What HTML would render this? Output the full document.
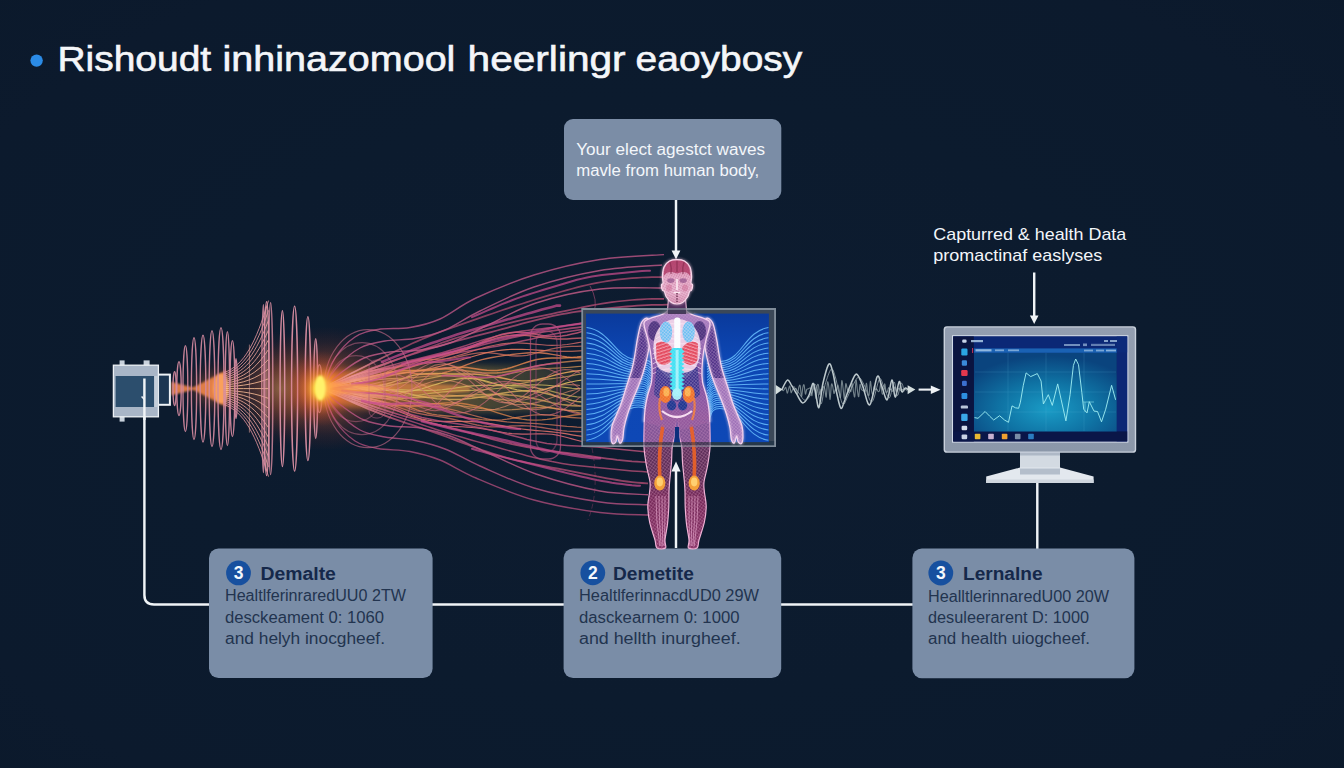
<!DOCTYPE html>
<html><head><meta charset="utf-8"><title>diagram</title>
<style>
html,body{margin:0;padding:0;background:#0c1a2d;}
body{width:1344px;height:768px;overflow:hidden;position:relative;font-family:"Liberation Sans",sans-serif;}
#bg{position:absolute;left:0;top:0;width:1344px;height:768px;
background:radial-gradient(ellipse 980px 600px at 660px 400px,#0d1c30 0%,#0c1b2e 50%,#0c1a2d 80%,#0b192b 100%);}
svg{position:absolute;left:0;top:0;}
text{font-family:"Liberation Sans",sans-serif;}
</style></head><body><div id="bg"></div>
<svg width="1344" height="768" viewBox="0 0 1344 768">
<!-- p_defs -->
<defs>
<radialGradient id="glowY" cx="50%" cy="50%" r="50%">
<stop offset="0" stop-color="#fff27a" stop-opacity="1"/>
<stop offset="0.18" stop-color="#ffd23a" stop-opacity="0.95"/>
<stop offset="0.4" stop-color="#ff8a2a" stop-opacity="0.6"/>
<stop offset="0.7" stop-color="#e0502a" stop-opacity="0.22"/>
<stop offset="1" stop-color="#c03020" stop-opacity="0"/>
</radialGradient>
<radialGradient id="glowO" cx="50%" cy="50%" r="50%">
<stop offset="0" stop-color="#ffb060" stop-opacity="0.95"/>
<stop offset="0.35" stop-color="#ff7a38" stop-opacity="0.6"/>
<stop offset="0.75" stop-color="#d04828" stop-opacity="0.18"/>
<stop offset="1" stop-color="#c03020" stop-opacity="0"/>
</radialGradient>
<linearGradient id="coreG" x1="0" y1="0" x2="1" y2="0">
<stop offset="0" stop-color="#ff8a3a" stop-opacity="0.9"/>
<stop offset="0.3" stop-color="#f88c3c" stop-opacity="0.6"/>
<stop offset="0.6" stop-color="#c8a040" stop-opacity="0.42"/>
<stop offset="0.85" stop-color="#a89040" stop-opacity="0.3"/>
<stop offset="1" stop-color="#a08838" stop-opacity="0.12"/>
</linearGradient>
<linearGradient id="panelG" x1="0" y1="0" x2="0" y2="1">
<stop offset="0" stop-color="#0a3a9c"/>
<stop offset="0.35" stop-color="#0d47b4"/>
<stop offset="1" stop-color="#0e48b6"/>
</linearGradient>
<radialGradient id="scrG" cx="52%" cy="72%" r="68%">
<stop offset="0" stop-color="#1a9cc6"/>
<stop offset="0.5" stop-color="#0f73a4"/>
<stop offset="1" stop-color="#0a447e"/>
</radialGradient>
<linearGradient id="bezelG" x1="0" y1="0" x2="0" y2="1">
<stop offset="0" stop-color="#939eb0"/>
<stop offset="1" stop-color="#8b97a9"/>
</linearGradient>
<linearGradient id="bodyG" x1="0" y1="0" x2="0" y2="1">
<stop offset="0" stop-color="#d890b0"/>
<stop offset="0.25" stop-color="#b070a8"/>
<stop offset="0.6" stop-color="#9a5aa0"/>
<stop offset="1" stop-color="#c86a9a"/>
</linearGradient>
<pattern id="mesh" width="2.6" height="2.6" patternUnits="userSpaceOnUse" patternTransform="rotate(35)">
<path d="M0 0 H2.6 M0 0 V2.6" stroke="#f2b4d8" stroke-width="0.55" fill="none"/>
</pattern>
<pattern id="meshW" width="2.4" height="2.4" patternUnits="userSpaceOnUse" patternTransform="rotate(40)">
<path d="M0 0 H2.4 M0 0 V2.4" stroke="#ffe6f6" stroke-width="0.55" fill="none"/>
</pattern>
<pattern id="dotsP" width="2.2" height="2.2" patternUnits="userSpaceOnUse" patternTransform="rotate(28)">
<circle cx="0.8" cy="0.8" r="0.55" fill="#a03868"/>
</pattern>
<pattern id="dotsD" width="3" height="3" patternUnits="userSpaceOnUse" patternTransform="rotate(20)">
<circle cx="1" cy="1" r="0.9" fill="#2a1a66"/>
</pattern>
<pattern id="ribs" width="4" height="3.2" patternUnits="userSpaceOnUse" patternTransform="rotate(-18)">
<path d="M0 1 H4" stroke="#ffd8e4" stroke-width="0.9"/>
</pattern>
<pattern id="ribs2" width="4" height="3.2" patternUnits="userSpaceOnUse" patternTransform="rotate(18)">
<path d="M0 1 H4" stroke="#ffd8e4" stroke-width="0.9"/>
</pattern>
<linearGradient id="torsoG" gradientUnits="userSpaceOnUse" x1="0" y1="299" x2="0" y2="432">
<stop offset="0" stop-color="#b78cc6"/><stop offset="0.2" stop-color="#a478bc"/><stop offset="0.55" stop-color="#7e4ea0"/><stop offset="0.75" stop-color="#8a56a2"/><stop offset="0.9" stop-color="#94589c"/><stop offset="1" stop-color="#94589c" stop-opacity="0.6"/>
</linearGradient>
<linearGradient id="legG" gradientUnits="userSpaceOnUse" x1="0" y1="420" x2="0" y2="548">
<stop offset="0" stop-color="#6d3468"/><stop offset="0.45" stop-color="#70305e"/><stop offset="0.6" stop-color="#8c2c62"/><stop offset="1" stop-color="#a03670"/>
</linearGradient>
<linearGradient id="headG" gradientUnits="userSpaceOnUse" x1="0" y1="260" x2="0" y2="304">
<stop offset="0" stop-color="#d47a9e"/><stop offset="0.4" stop-color="#e8b0cc"/><stop offset="0.75" stop-color="#eab8d2"/><stop offset="1" stop-color="#d898b8"/>
</linearGradient>
<linearGradient id="nearG" gradientUnits="userSpaceOnUse" x1="322" y1="0" x2="402" y2="0">
<stop offset="0" stop-color="#ffc8a0" stop-opacity="0.95"/><stop offset="0.5" stop-color="#f4a494" stop-opacity="0.6"/><stop offset="1" stop-color="#e88a90" stop-opacity="0"/>
</linearGradient>
<clipPath id="upArm"><rect x="600" y="315" width="160" height="63"/></clipPath>
<clipPath id="foreL"><rect x="600" y="378" width="45" height="70"/></clipPath>
<clipPath id="foreR"><rect x="709" y="378" width="45" height="70"/></clipPath>
<clipPath id="inPanel"><rect x="586" y="313.6" width="182.9" height="128.5"/></clipPath>
<clipPath id="inFrame"><rect x="581.3" y="308" width="194.7" height="139"/></clipPath>
<filter id="blur1" x="-20%" y="-20%" width="140%" height="140%"><feGaussianBlur stdDeviation="1.2"/></filter>
<filter id="blur3" x="-30%" y="-30%" width="160%" height="160%"><feGaussianBlur stdDeviation="3"/></filter>
<filter id="blur05" x="-10%" y="-10%" width="120%" height="120%"><feGaussianBlur stdDeviation="0.5"/></filter>
</defs>
<!-- p_waves -->
<ellipse cx="326" cy="388.6" rx="78" ry="62" fill="url(#glowO)" opacity="0.62"/><ellipse cx="218" cy="388.6" rx="40" ry="30" fill="url(#glowO)" opacity="0.5"/><path d="M322 374 Q420 360 585 368 L585 410 Q420 418 322 403 Z" fill="url(#coreG)" filter="url(#blur3)" opacity="0.8"/><path d="M322 383 Q400 381 470 386 L470 392 Q400 397 322 395 Z" fill="#ff9a48" filter="url(#blur1)" opacity="0.5"/><path d="M322 388.6 L327 386 L332 383.4 L337 380.8 L342 378.2 L347 375.6 L352 373.1 L357 370.6 L362 368 L367 365.5 L372 363 L377 360.5 L382 358 L387 355.5 L392 353.1 L397 350.6 L402 348.3 L407 345.9 L412 343.6 L417 341.4 L422 339.2 L427 337.1 L432 335.2 L437 333.2 L442 331.3 L447 329.5 L452 327.7 L457 325.9 L462 324.1 L467 322.4 L472 320.6 L477 318.9 L482 317.1 L487 315.4 L492 313.7 L497 312 L502 310.3 L507 308.6 L512 306.9 L517 305.3 L522 303.7 L527 302.1 L532 300.5 L537 298.9 L542 297.4 L547 295.9 L552 294.4 L557 293 L562 291.5 L567 290.1 L572 288.8 L577 287.4 L582 286.2 L587 285 L592 283.9 L597 282.9 L602 282 L607 281.1 L612 280.4 L617 279.7 L622 279.1 L627 278.6 L632 278.2 L637 277.8 L642 277.5 L647 277.3 L652 277.1 L657 277.1 L662 277.2 L664 277.2" fill="none" stroke="#a7486c" stroke-width="1.7" opacity="0.8" stroke-linejoin="round"/><path d="M322 388.6 L327 386 L332 383.4 L337 380.8 L342 378.2 L347 375.6 L352 373.1 L357 370.6 L362 368 L367 365.5 L372 363 L377 360.5 L382 358 L387 355.5 L392 353.1 L397 350.6 L402 348.3" fill="none" stroke="url(#nearG)" stroke-width="1.7" stroke-linejoin="round"/><path d="M322 388.6 L327 386.5 L332 384.4 L337 382.3 L342 380.2 L347 378.2 L352 376.2 L357 374.2 L362 372.2 L367 370.3 L372 368.4 L377 366.5 L382 364.7 L387 362.9 L392 361.1 L397 359.4 L402 357.6 L407 355.8 L412 354 L417 352.1 L422 350.3 L427 348.4 L432 346.5 L437 344.7 L442 342.8 L447 341.1 L452 339.4 L457 337.8 L462 336.2 L467 334.7 L472 333.2 L477 331.8 L482 330.4 L487 329 L492 327.6 L497 326.3 L502 324.9 L507 323.6 L512 322.4 L517 321.2 L522 320 L527 318.9 L532 317.8 L537 316.8 L542 315.8 L547 314.8 L552 313.8 L557 312.7 L562 311.7 L567 310.6 L572 309.5 L577 308.5 L582 307.4 L587 306.4 L592 305.4 L597 304.5 L602 303.6 L607 302.9 L612 302.2 L617 301.5 L622 301 L627 300.5 L632 300 L637 299.6 L642 299.3 L647 299 L652 298.8 L657 298.8 L662 298.8 L664 298.8" fill="none" stroke="#b14c72" stroke-width="1.7" opacity="0.8" stroke-linejoin="round"/><path d="M322 388.6 L327 386.5 L332 384.4 L337 382.3 L342 380.2 L347 378.2 L352 376.2 L357 374.2 L362 372.2 L367 370.3 L372 368.4 L377 366.5 L382 364.7 L387 362.9 L392 361.1 L397 359.4 L402 357.6" fill="none" stroke="url(#nearG)" stroke-width="1.7" stroke-linejoin="round"/><path d="M322 388.6 L327 386.6 L332 384.6 L337 382.6 L342 380.6 L347 378.6 L352 376.7 L357 374.7 L362 372.8 L367 370.8 L372 368.9 L377 367 L382 365.2 L387 363.3 L392 361.5 L397 359.7 L402 358 L407 356.2 L412 354.5 L417 352.9 L422 351.2 L427 349.6 L432 348.1 L437 346.6 L442 345.2 L447 343.7 L452 342.3 L457 341 L462 339.6 L467 338.3 L472 337 L477 335.7 L482 334.4 L487 333.1 L492 331.8 L497 330.5 L502 329.1 L507 327.8 L512 326.4 L517 325.1 L522 323.7 L527 322.4 L532 321.1 L537 319.8 L542 318.6 L547 317.4 L552 316.2 L557 315.2 L562 314.2 L567 313.3 L572 312.4 L577 311.7 L582 311 L587 310.4 L592 309.8 L597 309.3 L602 308.8 L607 308.3 L612 307.8 L617 307.4 L622 306.9 L627 306.5 L632 306.1 L637 305.7 L642 305.4 L647 305.1 L652 304.9 L657 304.8 L662 304.8 L667 304.7 L668 304.7" fill="none" stroke="#b44e74" stroke-width="1.8" opacity="0.8" stroke-linejoin="round"/><path d="M322 388.6 L327 386.6 L332 384.6 L337 382.6 L342 380.6 L347 378.6 L352 376.7 L357 374.7 L362 372.8 L367 370.8 L372 368.9 L377 367 L382 365.2 L387 363.3 L392 361.5 L397 359.7 L402 358" fill="none" stroke="url(#nearG)" stroke-width="1.8" stroke-linejoin="round"/><path d="M322 388.6 L327 386.8 L332 385 L337 383.3 L342 381.5 L347 379.8 L352 378.1 L357 376.4 L362 374.7 L367 373 L372 371.4 L377 369.8 L382 368.3 L387 366.7 L392 365.3 L397 363.9 L402 362.6 L407 361.3 L412 360 L417 358.9 L422 357.7 L427 356.5 L432 355.3 L437 354 L442 352.7 L447 351.3 L452 349.8 L457 348.3 L462 346.7 L467 345.1 L472 343.5 L477 341.9 L482 340.3 L487 338.8 L492 337.4 L497 336 L502 334.8 L507 333.7 L512 332.8 L517 331.9 L522 331.1 L527 330.5 L532 329.8 L537 329.2 L542 328.7 L547 328.1 L552 327.5 L557 326.8 L562 326.2 L567 325.5 L572 324.7 L577 323.9 L582 323.1" fill="none" stroke="#b95077" stroke-width="1.5" opacity="0.8" stroke-linejoin="round"/><path d="M322 388.6 L327 386.8 L332 385 L337 383.3 L342 381.5 L347 379.8 L352 378.1 L357 376.4 L362 374.7 L367 373 L372 371.4 L377 369.8 L382 368.3 L387 366.7 L392 365.3 L397 363.9 L402 362.6" fill="none" stroke="url(#nearG)" stroke-width="1.5" stroke-linejoin="round"/><path d="M322 388.6 L327 387 L332 385.3 L337 383.8 L342 382.2 L347 380.6 L352 379.1 L357 377.6 L362 376.1 L367 374.6 L372 373.1 L377 371.6 L382 370.1 L387 368.6 L392 367.2 L397 365.7 L402 364.3 L407 362.9 L412 361.6 L417 360.3 L422 359.1 L427 357.9 L432 356.8 L437 355.7 L442 354.6 L447 353.4 L452 352.3 L457 351.1 L462 350 L467 348.8 L472 347.5 L477 346.3 L482 345 L487 343.7 L492 342.5 L497 341.2 L502 340 L507 338.8 L512 337.7 L517 336.6 L522 335.6 L527 334.6 L532 333.8 L537 332.9 L542 332.2 L547 331.5 L552 330.8 L557 330.1 L562 329.5 L567 328.8 L572 328.2 L577 327.6 L582 326.9" fill="none" stroke="#bb5178" stroke-width="1.7" opacity="0.8" stroke-linejoin="round"/><path d="M322 388.6 L327 387 L332 385.3 L337 383.8 L342 382.2 L347 380.6 L352 379.1 L357 377.6 L362 376.1 L367 374.6 L372 373.1 L377 371.6 L382 370.1 L387 368.6 L392 367.2 L397 365.7 L402 364.3" fill="none" stroke="url(#nearG)" stroke-width="1.7" stroke-linejoin="round"/><path d="M322 388.6 L327 387.2 L332 385.8 L337 384.3 L342 382.9 L347 381.5 L352 380.1 L357 378.6 L362 377.2 L367 375.7 L372 374.2 L377 372.7 L382 371.2 L387 369.7 L392 368.2 L397 366.7 L402 365.3 L407 363.9 L412 362.6 L417 361.3 L422 360 L427 358.8 L432 357.7 L437 356.7 L442 355.7 L447 354.7 L452 353.8 L457 352.9 L462 352.1 L467 351.2 L472 350.4 L477 349.6 L482 348.8 L487 347.9 L492 347.1 L497 346.2 L502 345.2 L507 344.2 L512 343.2 L517 342.2 L522 341.1 L527 340 L532 338.9 L537 337.7 L542 336.6 L547 335.6 L552 334.5 L557 333.5 L562 332.6 L567 331.7 L572 331 L577 330.3 L582 329.6" fill="none" stroke="#bd527a" stroke-width="1.5" opacity="0.8" stroke-linejoin="round"/><path d="M322 388.6 L327 387.2 L332 385.8 L337 384.3 L342 382.9 L347 381.5 L352 380.1 L357 378.6 L362 377.2 L367 375.7 L372 374.2 L377 372.7 L382 371.2 L387 369.7 L392 368.2 L397 366.7 L402 365.3" fill="none" stroke="url(#nearG)" stroke-width="1.5" stroke-linejoin="round"/><path d="M322 388.6 L327 386.8 L332 384.8 L337 382.7 L342 380.5 L347 378.4 L352 376.4 L357 374.6 L362 373 L367 371.7 L372 370.7 L377 369.8 L382 369.2 L387 368.6 L392 368 L397 367.2 L402 366.3 L407 365.2 L412 364 L417 362.4 L422 360.7 L427 359.1 L432 357.5 L437 356.1 L442 354.7 L447 353.4 L452 352.1 L457 350.8 L462 349.3 L467 347.7 L472 345.9 L477 343.9 L482 341.9 L487 339.8 L492 337.7 L497 335.9 L502 334.3 L507 333.2 L512 332.4 L517 332.1 L522 332.3 L527 332.8 L532 333.6 L537 334.5 L542 335.4 L547 336.2 L552 336.6 L557 336.6 L562 336.1 L567 335.2 L572 334.1 L577 332.9 L582 331.6" fill="none" stroke="#d25b7a" stroke-width="1.5" opacity="0.8" stroke-linejoin="round"/><path d="M322 388.6 L327 386.8 L332 384.8 L337 382.7 L342 380.5 L347 378.4 L352 376.4 L357 374.6 L362 373 L367 371.7 L372 370.7 L377 369.8 L382 369.2 L387 368.6 L392 368 L397 367.2 L402 366.3" fill="none" stroke="url(#nearG)" stroke-width="1.5" stroke-linejoin="round"/><path d="M322 388.6 L327 386.7 L332 385 L337 383.4 L342 382 L347 380.7 L352 379.7 L357 378.8 L362 378.1 L367 377.4 L372 376.7 L377 375.9 L382 375 L387 373.9 L392 372.7 L397 371.3 L402 369.8 L407 368.2 L412 366.6 L417 364.8 L422 363.1 L427 361.5 L432 360 L437 358.6 L442 357.2 L447 355.8 L452 354.3 L457 352.7 L462 350.9 L467 349.1 L472 347.1 L477 345.1 L482 343.1 L487 341.2 L492 339.5 L497 337.9 L502 336.7 L507 335.8 L512 335.3 L517 335.1 L522 335.2 L527 335.6 L532 336.1 L537 336.8 L542 337.5 L547 338.1 L552 338.6 L557 338.9 L562 339 L567 338.9 L572 338.6 L577 338.3 L582 337.9" fill="none" stroke="#d76471" stroke-width="1.5" opacity="0.8" stroke-linejoin="round"/><path d="M322 388.6 L327 386.7 L332 385 L337 383.4 L342 382 L347 380.7 L352 379.7 L357 378.8 L362 378.1 L367 377.4 L372 376.7 L377 375.9 L382 375 L387 373.9 L392 372.7 L397 371.3 L402 369.8" fill="none" stroke="url(#nearG)" stroke-width="1.5" stroke-linejoin="round"/><path d="M322 388.6 L327 386.9 L332 385.3 L337 383.8 L342 382.4 L347 381.2 L352 380.1 L357 379 L362 378.1 L367 377.1 L372 376.1 L377 375.1 L382 374.1 L387 373 L392 371.8 L397 370.6 L402 369.3 L407 368.1 L412 366.8 L417 365.5 L422 364.3 L427 363.1 L432 362 L437 360.8 L442 359.7 L447 358.5 L452 357.2 L457 355.8 L462 354.4 L467 352.9 L472 351.3 L477 349.8 L482 348.3 L487 346.9 L492 345.7 L497 344.7 L502 343.9 L507 343.3 L512 343 L517 343 L522 343.1 L527 343.4 L532 343.9 L537 344.4 L542 344.8 L547 345.2 L552 345.4 L557 345.3 L562 345 L567 344.5 L572 343.7 L577 342.9 L582 342" fill="none" stroke="#da6b6a" stroke-width="1.1" opacity="0.8" stroke-linejoin="round"/><path d="M322 388.6 L327 386.9 L332 385.3 L337 383.8 L342 382.4 L347 381.2 L352 380.1 L357 379 L362 378.1 L367 377.1 L372 376.1 L377 375.1 L382 374.1 L387 373 L392 371.8 L397 370.6 L402 369.3" fill="none" stroke="url(#nearG)" stroke-width="1.1" stroke-linejoin="round"/><path d="M322 388.6 L327 387.4 L332 386.2 L337 385 L342 383.8 L347 382.7 L352 381.7 L357 380.7 L362 379.8 L367 378.7 L372 377.5 L377 376 L382 374.2 L387 372.1 L392 369.8 L397 367.4 L402 365.1 L407 363 L412 361.2 L417 360.3 L422 359.8 L427 359.5 L432 359.5 L437 359.4 L442 359.2 L447 358.8 L452 358.1 L457 357.1 L462 356 L467 354.9 L472 353.9 L477 353.1 L482 352.7 L487 352.7 L492 353.1 L497 353.7 L502 354.5 L507 355.2 L512 355.8 L517 356 L522 355.9 L527 355.3 L532 354.2 L537 352.9 L542 351.5 L547 350.1 L552 348.8 L557 347.8 L562 347.1 L567 346.6 L572 346.4 L577 346.3 L582 346.1" fill="none" stroke="#df7363" stroke-width="1.3" opacity="0.7" stroke-linejoin="round"/><path d="M322 388.6 L327 387.4 L332 386.2 L337 385 L342 383.8 L347 382.7 L352 381.7 L357 380.7 L362 379.8 L367 378.7 L372 377.5 L377 376 L382 374.2 L387 372.1 L392 369.8 L397 367.4 L402 365.1" fill="none" stroke="url(#nearG)" stroke-width="1.3" stroke-linejoin="round"/><path d="M322 388.6 L327 387.1 L332 385.6 L337 384.2 L342 382.8 L347 381.6 L352 380.5 L357 379.4 L362 378.5 L367 377.7 L372 376.9 L377 376.2 L382 375.6 L387 375 L392 374.5 L397 373.9 L402 373.4 L407 372.8 L412 372.2 L417 371.3 L422 370.4 L427 369.4 L432 368.3 L437 367.1 L442 365.8 L447 364.4 L452 362.9 L457 361.4 L462 359.8 L467 358.2 L472 356.7 L477 355.2 L482 353.9 L487 352.6 L492 351.6 L497 350.7 L502 350.1 L507 349.6 L512 349.4 L517 349.3 L522 349.4 L527 349.5 L532 349.8 L537 350.1 L542 350.4 L547 350.7 L552 351 L557 351.2 L562 351.2 L567 351.2 L572 351.2 L577 351 L582 350.8" fill="none" stroke="#e2795e" stroke-width="1.1" opacity="0.9" stroke-linejoin="round"/><path d="M322 388.6 L327 387.1 L332 385.6 L337 384.2 L342 382.8 L347 381.6 L352 380.5 L357 379.4 L362 378.5 L367 377.7 L372 376.9 L377 376.2 L382 375.6 L387 375 L392 374.5 L397 373.9 L402 373.4" fill="none" stroke="url(#nearG)" stroke-width="1.1" stroke-linejoin="round"/><path d="M322 388.6 L327 387.5 L332 386.3 L337 385.1 L342 383.9 L347 382.6 L352 381.3 L357 380.1 L362 378.9 L367 377.6 L372 376.4 L377 375.2 L382 374.2 L387 373.3 L392 372.6 L397 372.2 L402 372.1 L407 372.4 L412 373 L417 373.6 L422 374.1 L427 374.4 L432 374.4 L437 374 L442 373.2 L447 372 L452 370.4 L457 368.6 L462 366.7 L467 364.7 L472 362.9 L477 361.2 L482 359.7 L487 358.5 L492 357.5 L497 356.6 L502 355.9 L507 355.2 L512 354.5 L517 353.9 L522 353.4 L527 353 L532 352.7 L537 352.7 L542 353 L547 353.5 L552 354.3 L557 355.2 L562 356.2 L567 357 L572 357.6 L577 357.9 L582 357.8" fill="none" stroke="#e68157" stroke-width="1.3" opacity="0.8" stroke-linejoin="round"/><path d="M322 388.6 L327 387.5 L332 386.3 L337 385.1 L342 383.9 L347 382.6 L352 381.3 L357 380.1 L362 378.9 L367 377.6 L372 376.4 L377 375.2 L382 374.2 L387 373.3 L392 372.6 L397 372.2 L402 372.1" fill="none" stroke="url(#nearG)" stroke-width="1.3" stroke-linejoin="round"/><path d="M322 388.6 L327 387.8 L332 387.2 L337 386.5 L342 385.8 L347 385.1 L352 384.2 L357 383.1 L362 381.7 L367 380.1 L372 378.4 L377 376.6 L382 374.9 L387 373.3 L392 372.1 L397 371.2 L402 370.7 L407 370.5 L412 370.5 L417 370.6 L422 370.7 L427 370.5 L432 370 L437 369.4 L442 368.7 L447 368 L452 367.5 L457 367.2 L462 367.2 L467 367.6 L472 368.2 L477 369 L482 369.7 L487 370.3 L492 370.6 L497 370.5 L502 369.8 L507 368.8 L512 367.3 L517 365.6 L522 363.9 L527 362.2 L532 360.7 L537 359.6 L542 358.8 L547 358.3 L552 358 L557 358 L562 358 L567 357.8 L572 357.5 L577 357.1 L582 356.5" fill="none" stroke="#eb894e" stroke-width="1.5" opacity="0.8" stroke-linejoin="round"/><path d="M322 388.6 L327 387.8 L332 387.2 L337 386.5 L342 385.8 L347 385.1 L352 384.2 L357 383.1 L362 381.7 L367 380.1 L372 378.4 L377 376.6 L382 374.9 L387 373.3 L392 372.1 L397 371.2 L402 370.7" fill="none" stroke="url(#nearG)" stroke-width="1.5" stroke-linejoin="round"/><path d="M322 388.6 L327 388.1 L332 387.5 L337 386.8 L342 386 L347 385 L352 384 L357 382.9 L362 381.8 L367 380.6 L372 379.5 L377 378.3 L382 377.3 L387 376.2 L392 375.2 L397 374.2 L402 373.2 L407 372.3 L412 371.3 L417 370.6 L422 370 L427 369.5 L432 369.1 L437 368.9 L442 368.8 L447 368.9 L452 369.3 L457 369.7 L462 370.3 L467 371 L472 371.6 L477 372.2 L482 372.7 L487 373 L492 373 L497 372.9 L502 372.5 L507 371.8 L512 371 L517 370.1 L522 369.1 L527 368 L532 367 L537 366 L542 365 L547 364.2 L552 363.4 L557 362.8 L562 362.2 L567 361.7 L572 361.2 L577 360.8 L582 360.4" fill="none" stroke="#e69255" stroke-width="1.6" opacity="0.7" stroke-linejoin="round"/><path d="M322 388.6 L327 388.1 L332 387.5 L337 386.8 L342 386 L347 385 L352 384 L357 382.9 L362 381.8 L367 380.6 L372 379.5 L377 378.3 L382 377.3 L387 376.2 L392 375.2 L397 374.2 L402 373.2" fill="none" stroke="url(#nearG)" stroke-width="1.6" stroke-linejoin="round"/><path d="M322 388.6 L327 388 L332 387.4 L337 386.6 L342 385.8 L347 384.8 L352 383.8 L357 382.7 L362 381.8 L367 380.9 L372 380.2 L377 379.6 L382 379.2 L387 378.9 L392 378.6 L397 378.4 L402 378.2 L407 377.9 L412 377.6 L417 377.2 L422 376.7 L427 376.3 L432 376 L437 375.8 L442 375.8 L447 375.9 L452 376.3 L457 376.7 L462 377.2 L467 377.7 L472 378.1 L477 378.3 L482 378.3 L487 378 L492 377.4 L497 376.6 L502 375.6 L507 374.5 L512 373.3 L517 372.2 L522 371.2 L527 370.3 L532 369.6 L537 369.1 L542 368.8 L547 368.5 L552 368.3 L557 368.1 L562 367.8 L567 367.5 L572 367.1 L577 366.6 L582 366.2" fill="none" stroke="#e39c57" stroke-width="1.1" opacity="0.7" stroke-linejoin="round"/><path d="M322 388.6 L327 388 L332 387.4 L337 386.6 L342 385.8 L347 384.8 L352 383.8 L357 382.7 L362 381.8 L367 380.9 L372 380.2 L377 379.6 L382 379.2 L387 378.9 L392 378.6 L397 378.4 L402 378.2" fill="none" stroke="url(#nearG)" stroke-width="1.1" stroke-linejoin="round"/><path d="M322 388.6 L327 388.3 L332 388 L337 387.8 L342 387.7 L347 387.6 L352 387.5 L357 387.5 L362 387.3 L367 387.1 L372 386.7 L377 386 L382 385 L387 383.8 L392 382.3 L397 380.7 L402 378.9 L407 377.2 L412 375.7 L417 374.7 L422 374 L427 373.6 L432 373.5 L437 373.5 L442 373.6 L447 373.8 L452 373.9 L457 373.9 L462 374 L467 374 L472 374.1 L477 374.4 L482 374.8 L487 375.3 L492 376.1 L497 377 L502 378 L507 379 L512 379.9 L517 380.5 L522 380.8 L527 380.8 L532 380.4 L537 379.6 L542 378.5 L547 377.3 L552 375.9 L557 374.5 L562 373.3 L567 372.3 L572 371.5 L577 370.9 L582 370.5" fill="none" stroke="#e1a259" stroke-width="1.3" opacity="0.9" stroke-linejoin="round"/><path d="M322 388.6 L327 388.3 L332 388 L337 387.8 L342 387.7 L347 387.6 L352 387.5 L357 387.5 L362 387.3 L367 387.1 L372 386.7 L377 386 L382 385 L387 383.8 L392 382.3 L397 380.7 L402 378.9" fill="none" stroke="url(#nearG)" stroke-width="1.3" stroke-linejoin="round"/><path d="M322 388.6 L327 388.2 L332 388 L337 388.1 L342 388.2 L347 388.5 L352 388.8 L357 389 L362 389 L367 388.8 L372 388.4 L377 387.6 L382 386.8 L387 385.8 L392 384.8 L397 383.8 L402 382.9 L407 382.1 L412 381.2 L417 380.5 L422 379.7 L427 378.8 L432 377.8 L437 376.9 L442 375.9 L447 375.2 L452 374.8 L457 374.8 L462 375.2 L467 376.1 L472 377.4 L477 378.9 L482 380.5 L487 382.1 L492 383.5 L497 384.5 L502 385 L507 385.2 L512 384.8 L517 384.2 L522 383.3 L527 382.4 L532 381.5 L537 380.6 L542 379.9 L547 379.2 L552 378.6 L557 378 L562 377.3 L567 376.5 L572 375.6 L577 374.7 L582 373.9" fill="none" stroke="#ddab5b" stroke-width="1.2" opacity="0.7" stroke-linejoin="round"/><path d="M322 388.6 L327 388.2 L332 388 L337 388.1 L342 388.2 L347 388.5 L352 388.8 L357 389 L362 389 L367 388.8 L372 388.4 L377 387.6 L382 386.8 L387 385.8 L392 384.8 L397 383.8 L402 382.9" fill="none" stroke="url(#nearG)" stroke-width="1.2" stroke-linejoin="round"/><path d="M322 388.6 L327 388.2 L332 387.8 L337 387.4 L342 387.2 L347 387 L352 387 L357 387.1 L362 387.4 L367 387.9 L372 388.4 L377 389.1 L382 389.8 L387 390.4 L392 391 L397 391.4 L402 391.6 L407 391.4 L412 391 L417 389.9 L422 388.7 L427 387.2 L432 385.6 L437 384.1 L442 382.5 L447 381.1 L452 380 L457 379.1 L462 378.6 L467 378.4 L472 378.6 L477 379.2 L482 380.1 L487 381.3 L492 382.8 L497 384.3 L502 385.8 L507 387.3 L512 388.6 L517 389.7 L522 390.5 L527 390.9 L532 390.9 L537 390.5 L542 389.8 L547 388.7 L552 387.4 L557 385.9 L562 384.4 L567 382.9 L572 381.7 L577 380.8 L582 380.1" fill="none" stroke="#d9b75e" stroke-width="1.1" opacity="0.9" stroke-linejoin="round"/><path d="M322 388.6 L327 388.2 L332 387.8 L337 387.4 L342 387.2 L347 387 L352 387 L357 387.1 L362 387.4 L367 387.9 L372 388.4 L377 389.1 L382 389.8 L387 390.4 L392 391 L397 391.4 L402 391.6" fill="none" stroke="url(#nearG)" stroke-width="1.1" stroke-linejoin="round"/><path d="M322 388.6 L327 388.5 L332 388.4 L337 388.3 L342 388.4 L347 388.5 L352 388.7 L357 389 L362 389.3 L367 389.6 L372 389.8 L377 389.9 L382 390 L387 390 L392 390 L397 389.9 L402 389.9 L407 390 L412 390.2 L417 390.3 L422 390.3 L427 390.4 L432 390.3 L437 390.1 L442 389.7 L447 389.1 L452 388.5 L457 387.7 L462 387 L467 386.4 L472 385.9 L477 385.6 L482 385.4 L487 385.4 L492 385.5 L497 385.6 L502 385.7 L507 385.7 L512 385.6 L517 385.5 L522 385.3 L527 385.1 L532 384.9 L537 384.9 L542 385 L547 385.3 L552 385.7 L557 386.3 L562 387 L567 387.6 L572 388.2 L577 388.5 L582 388.8" fill="none" stroke="#d7be60" stroke-width="1.1" opacity="0.8" stroke-linejoin="round"/><path d="M322 388.6 L327 388.5 L332 388.4 L337 388.3 L342 388.4 L347 388.5 L352 388.7 L357 389 L362 389.3 L367 389.6 L372 389.8 L377 389.9 L382 390 L387 390 L392 390 L397 389.9 L402 389.9" fill="none" stroke="url(#nearG)" stroke-width="1.1" stroke-linejoin="round"/><path d="M322 388.6 L327 388.4 L332 388.1 L337 388 L342 387.9 L347 388 L352 388.2 L357 388.6 L362 389.3 L367 390.1 L372 391 L377 392 L382 393 L387 394 L392 394.8 L397 395.4 L402 395.8 L407 396 L412 395.9 L417 395.3 L422 394.7 L427 393.9 L432 393.2 L437 392.6 L442 392 L447 391.6 L452 391.2 L457 390.9 L462 390.7 L467 390.5 L472 390.3 L477 390.1 L482 389.8 L487 389.4 L492 389 L497 388.5 L502 388 L507 387.6 L512 387.2 L517 386.9 L522 386.8 L527 387 L532 387.3 L537 388 L542 388.9 L547 390 L552 391.3 L557 392.7 L562 394 L567 395.1 L572 396.1 L577 396.8 L582 397.2" fill="none" stroke="#d9b95e" stroke-width="1.2" opacity="0.7" stroke-linejoin="round"/><path d="M322 388.6 L327 388.4 L332 388.1 L337 388 L342 387.9 L347 388 L352 388.2 L357 388.6 L362 389.3 L367 390.1 L372 391 L377 392 L382 393 L387 394 L392 394.8 L397 395.4 L402 395.8" fill="none" stroke="url(#nearG)" stroke-width="1.2" stroke-linejoin="round"/><path d="M322 388.6 L327 388.9 L332 389.1 L337 389.1 L342 389 L347 388.8 L352 388.5 L357 388.3 L362 388.1 L367 388 L372 388.1 L377 388.3 L382 388.7 L387 389.3 L392 390 L397 391 L402 392 L407 393.2 L412 394.4 L417 395.5 L422 396.5 L427 397.4 L432 398.1 L437 398.7 L442 399.1 L447 399.4 L452 399.5 L457 399.4 L462 399.2 L467 398.8 L472 398.3 L477 397.6 L482 396.8 L487 395.9 L492 395 L497 394.1 L502 393.2 L507 392.4 L512 391.7 L517 391.2 L522 391 L527 391 L532 391.2 L537 391.8 L542 392.6 L547 393.7 L552 395 L557 396.5 L562 398 L567 399.3 L572 400.5 L577 401.4 L582 402.1" fill="none" stroke="#dcaf5c" stroke-width="1.5" opacity="0.8" stroke-linejoin="round"/><path d="M322 388.6 L327 388.9 L332 389.1 L337 389.1 L342 389 L347 388.8 L352 388.5 L357 388.3 L362 388.1 L367 388 L372 388.1 L377 388.3 L382 388.7 L387 389.3 L392 390 L397 391 L402 392" fill="none" stroke="url(#nearG)" stroke-width="1.5" stroke-linejoin="round"/><path d="M322 388.6 L327 388.9 L332 389.4 L337 389.9 L342 390.5 L347 391.2 L352 392 L357 392.8 L362 393.6 L367 394.3 L372 395 L377 395.7 L382 396.3 L387 396.8 L392 397.1 L397 397.4 L402 397.6 L407 397.7 L412 397.8 L417 397.6 L422 397.4 L427 397.2 L432 397 L437 396.8 L442 396.6 L447 396.4 L452 396.1 L457 395.9 L462 395.6 L467 395.3 L472 395.1 L477 394.8 L482 394.6 L487 394.5 L492 394.4 L497 394.5 L502 394.6 L507 394.9 L512 395.3 L517 395.8 L522 396.5 L527 397.4 L532 398.3 L537 399.3 L542 400.4 L547 401.5 L552 402.7 L557 403.7 L562 404.5 L567 405.1 L572 405.6 L577 405.9 L582 406" fill="none" stroke="#dea95a" stroke-width="1.6" opacity="0.7" stroke-linejoin="round"/><path d="M322 388.6 L327 388.9 L332 389.4 L337 389.9 L342 390.5 L347 391.2 L352 392 L357 392.8 L362 393.6 L367 394.3 L372 395 L377 395.7 L382 396.3 L387 396.8 L392 397.1 L397 397.4 L402 397.6" fill="none" stroke="url(#nearG)" stroke-width="1.6" stroke-linejoin="round"/><path d="M322 388.6 L327 389.2 L332 389.9 L337 390.6 L342 391.5 L347 392.4 L352 393.4 L357 394.4 L362 395.4 L367 396.3 L372 397.1 L377 397.9 L382 398.4 L387 398.7 L392 398.9 L397 398.8 L402 398.6 L407 398.1 L412 397.6 L417 396.9 L422 396.4 L427 395.9 L432 395.5 L437 395.3 L442 395.2 L447 395.2 L452 395.3 L457 395.6 L462 395.9 L467 396.3 L472 396.7 L477 397.1 L482 397.6 L487 398 L492 398.5 L497 399 L502 399.5 L507 400.1 L512 400.7 L517 401.4 L522 402.2 L527 403 L532 404 L537 405 L542 406 L547 407.1 L552 408.2 L557 409 L562 409.7 L567 410.2 L572 410.5 L577 410.6 L582 410.6" fill="none" stroke="#e1a259" stroke-width="1.3" opacity="0.7" stroke-linejoin="round"/><path d="M322 388.6 L327 389.2 L332 389.9 L337 390.6 L342 391.5 L347 392.4 L352 393.4 L357 394.4 L362 395.4 L367 396.3 L372 397.1 L377 397.9 L382 398.4 L387 398.7 L392 398.9 L397 398.8 L402 398.6" fill="none" stroke="url(#nearG)" stroke-width="1.3" stroke-linejoin="round"/><path d="M322 388.6 L327 389.4 L332 390.1 L337 390.6 L342 391.1 L347 391.4 L352 391.8 L357 392.2 L362 392.6 L367 393.1 L372 393.8 L377 394.6 L382 395.5 L387 396.6 L392 397.7 L397 398.8 L402 399.9 L407 401 L412 401.9 L417 402.5 L422 403 L427 403.4 L432 403.7 L437 404 L442 404.2 L447 404.5 L452 404.9 L457 405.4 L462 405.9 L467 406.6 L472 407.2 L477 407.9 L482 408.6 L487 409.1 L492 409.6 L497 409.8 L502 410 L507 409.9 L512 409.7 L517 409.3 L522 408.9 L527 408.5 L532 408.1 L537 407.7 L542 407.6 L547 407.6 L552 407.9 L557 408.6 L562 409.4 L567 410.4 L572 411.4 L577 412.4 L582 413.3" fill="none" stroke="#e59556" stroke-width="1.2" opacity="0.7" stroke-linejoin="round"/><path d="M322 388.6 L327 389.4 L332 390.1 L337 390.6 L342 391.1 L347 391.4 L352 391.8 L357 392.2 L362 392.6 L367 393.1 L372 393.8 L377 394.6 L382 395.5 L387 396.6 L392 397.7 L397 398.8 L402 399.9" fill="none" stroke="url(#nearG)" stroke-width="1.2" stroke-linejoin="round"/><path d="M322 388.6 L327 389.3 L332 390 L337 390.8 L342 391.6 L347 392.5 L352 393.6 L357 394.8 L362 396 L367 397.4 L372 398.8 L377 400.2 L382 401.5 L387 402.8 L392 403.9 L397 404.8 L402 405.4 L407 405.8 L412 405.9 L417 405.6 L422 405.2 L427 404.7 L432 404.1 L437 403.6 L442 403.2 L447 402.9 L452 402.9 L457 403.1 L462 403.5 L467 404.2 L472 405.2 L477 406.3 L482 407.7 L487 409.3 L492 410.9 L497 412.6 L502 414.2 L507 415.7 L512 417.1 L517 418.2 L522 419.1 L527 419.8 L532 420.1 L537 420.1 L542 419.9 L547 419.4 L552 418.7 L557 417.8 L562 416.9 L567 416.1 L572 415.3 L577 414.8 L582 414.4" fill="none" stroke="#ec8c4c" stroke-width="1.4" opacity="0.7" stroke-linejoin="round"/><path d="M322 388.6 L327 389.3 L332 390 L337 390.8 L342 391.6 L347 392.5 L352 393.6 L357 394.8 L362 396 L367 397.4 L372 398.8 L377 400.2 L382 401.5 L387 402.8 L392 403.9 L397 404.8 L402 405.4" fill="none" stroke="url(#nearG)" stroke-width="1.4" stroke-linejoin="round"/><path d="M322 388.6 L327 389.3 L332 390 L337 390.8 L342 391.5 L347 392.3 L352 393.1 L357 393.9 L362 394.6 L367 395.4 L372 396.1 L377 396.8 L382 397.7 L387 398.8 L392 400.2 L397 401.8 L402 403.7 L407 405.7 L412 407.9 L417 409.8 L422 411.5 L427 413 L432 414.1 L437 414.9 L442 415.5 L447 416 L452 416.4 L457 416.8 L462 417.2 L467 417.8 L472 418.4 L477 419 L482 419.6 L487 420 L492 420.2 L497 420.1 L502 419.8 L507 419.2 L512 418.4 L517 417.5 L522 416.6 L527 415.8 L532 415.2 L537 414.8 L542 414.7 L547 414.8 L552 415.2 L557 415.8 L562 416.4 L567 417 L572 417.5 L577 417.9 L582 418.2" fill="none" stroke="#e88454" stroke-width="1.3" opacity="0.7" stroke-linejoin="round"/><path d="M322 388.6 L327 389.3 L332 390 L337 390.8 L342 391.5 L347 392.3 L352 393.1 L357 393.9 L362 394.6 L367 395.4 L372 396.1 L377 396.8 L382 397.7 L387 398.8 L392 400.2 L397 401.8 L402 403.7" fill="none" stroke="url(#nearG)" stroke-width="1.3" stroke-linejoin="round"/><path d="M322 388.6 L327 389.6 L332 390.6 L337 391.7 L342 392.9 L347 394.1 L352 395.4 L357 396.8 L362 398.2 L367 399.6 L372 401 L377 402.2 L382 403.4 L387 404.3 L392 405.1 L397 405.6 L402 405.9 L407 406.1 L412 406.1 L417 406 L422 406.1 L427 406.2 L432 406.6 L437 407 L442 407.7 L447 408.6 L452 409.7 L457 410.9 L462 412.3 L467 413.6 L472 415 L477 416.4 L482 417.7 L487 418.8 L492 419.8 L497 420.6 L502 421.3 L507 421.9 L512 422.3 L517 422.6 L522 422.9 L527 423.1 L532 423.4 L537 423.7 L542 424.1 L547 424.5 L552 424.9 L557 425.4 L562 425.9 L567 426.4 L572 426.7 L577 427.1 L582 427.3" fill="none" stroke="#e47d5a" stroke-width="1.2" opacity="0.7" stroke-linejoin="round"/><path d="M322 388.6 L327 389.6 L332 390.6 L337 391.7 L342 392.9 L347 394.1 L352 395.4 L357 396.8 L362 398.2 L367 399.6 L372 401 L377 402.2 L382 403.4 L387 404.3 L392 405.1 L397 405.6 L402 405.9" fill="none" stroke="url(#nearG)" stroke-width="1.2" stroke-linejoin="round"/><path d="M322 388.6 L327 390 L332 391.4 L337 392.7 L342 394 L347 395.1 L352 396.1 L357 397 L362 397.8 L367 398.7 L372 399.6 L377 400.7 L382 401.9 L387 403.4 L392 405 L397 406.7 L402 408.5 L407 410.2 L412 411.8 L417 413.1 L422 414.1 L427 415 L432 415.7 L437 416.4 L442 417.1 L447 418 L452 419 L457 420.1 L462 421.4 L467 422.7 L472 423.9 L477 425 L482 425.9 L487 426.5 L492 426.8 L497 426.8 L502 426.7 L507 426.3 L512 426 L517 425.8 L522 425.7 L527 425.8 L532 426.2 L537 426.8 L542 427.5 L547 428.4 L552 429.2 L557 430 L562 430.7 L567 431.1 L572 431.3 L577 431.5 L582 431.6" fill="none" stroke="#df7363" stroke-width="1.3" opacity="0.7" stroke-linejoin="round"/><path d="M322 388.6 L327 390 L332 391.4 L337 392.7 L342 394 L347 395.1 L352 396.1 L357 397 L362 397.8 L367 398.7 L372 399.6 L377 400.7 L382 401.9 L387 403.4 L392 405 L397 406.7 L402 408.5" fill="none" stroke="url(#nearG)" stroke-width="1.3" stroke-linejoin="round"/><path d="M322 388.6 L327 390 L332 391.4 L337 392.7 L342 394 L347 395.3 L352 396.6 L357 397.9 L362 399.1 L367 400.5 L372 401.9 L377 403.4 L382 405.1 L387 406.9 L392 408.8 L397 410.7 L402 412.7 L407 414.7 L412 416.6 L417 418 L422 419.2 L427 420.1 L432 420.8 L437 421.2 L442 421.4 L447 421.4 L452 421.4 L457 421.4 L462 421.4 L467 421.4 L472 421.6 L477 422 L482 422.5 L487 423.2 L492 423.9 L497 424.8 L502 425.7 L507 426.6 L512 427.5 L517 428.3 L522 429 L527 429.6 L532 430.1 L537 430.6 L542 431 L547 431.4 L552 431.9 L557 432.5 L562 433.2 L567 433.9 L572 434.8 L577 435.6 L582 436.4" fill="none" stroke="#dc6f67" stroke-width="1.2" opacity="0.9" stroke-linejoin="round"/><path d="M322 388.6 L327 390 L332 391.4 L337 392.7 L342 394 L347 395.3 L352 396.6 L357 397.9 L362 399.1 L367 400.5 L372 401.9 L377 403.4 L382 405.1 L387 406.9 L392 408.8 L397 410.7 L402 412.7" fill="none" stroke="url(#nearG)" stroke-width="1.2" stroke-linejoin="round"/><path d="M322 388.6 L327 390.1 L332 391.6 L337 393.1 L342 394.6 L347 396 L352 397.3 L357 398.5 L362 399.6 L367 400.6 L372 401.6 L377 402.6 L382 403.7 L387 405 L392 406.6 L397 408.4 L402 410.5 L407 412.8 L412 415.3 L417 417.6 L422 419.8 L427 421.7 L432 423.3 L437 424.5 L442 425.4 L447 426 L452 426.4 L457 426.6 L462 426.8 L467 427.1 L472 427.5 L477 428 L482 428.7 L487 429.5 L492 430.4 L497 431.4 L502 432.2 L507 433 L512 433.6 L517 433.9 L522 434.1 L527 434.1 L532 434 L537 433.9 L542 433.9 L547 434 L552 434.3 L557 435.1 L562 436.2 L567 437.5 L572 438.9 L577 440.2 L582 441.5" fill="none" stroke="#d76570" stroke-width="1.1" opacity="0.9" stroke-linejoin="round"/><path d="M322 388.6 L327 390.1 L332 391.6 L337 393.1 L342 394.6 L347 396 L352 397.3 L357 398.5 L362 399.6 L367 400.6 L372 401.6 L377 402.6 L382 403.7 L387 405 L392 406.6 L397 408.4 L402 410.5" fill="none" stroke="url(#nearG)" stroke-width="1.1" stroke-linejoin="round"/><path d="M322 388.6 L327 390.1 L332 391.5 L337 393 L342 394.5 L347 395.9 L352 397.4 L357 398.8 L362 400.3 L367 401.7 L372 403.2 L377 404.6 L382 406.1 L387 407.6 L392 409.1 L397 410.5 L402 412 L407 413.4 L412 414.8 L417 416.1 L422 417.4 L427 418.5 L432 419.5 L437 420.5 L442 421.4 L447 422.2 L452 423 L457 423.8 L462 424.6 L467 425.4 L472 426.2 L477 427.2 L482 428.1 L487 429.2 L492 430.3 L497 431.6 L502 432.8 L507 434.2 L512 435.5 L517 436.8 L522 438.1 L527 439.4 L532 440.5 L537 441.6 L542 442.5 L547 443.4 L552 444.1 L557 444.6 L562 445.1 L567 445.5 L572 445.8 L577 446.1 L582 446.3 L587 446.5 L592 446.8 L597 447.1 L602 447.5 L607 447.9 L612 448.4 L617 448.9 L622 449.5 L627 450 L632 450.5 L637 451 L642 451.4 L647 451.8 L648 451.8" fill="none" stroke="#bd527a" stroke-width="1.5" opacity="0.8" stroke-linejoin="round"/><path d="M322 388.6 L327 390.1 L332 391.5 L337 393 L342 394.5 L347 395.9 L352 397.4 L357 398.8 L362 400.3 L367 401.7 L372 403.2 L377 404.6 L382 406.1 L387 407.6 L392 409.1 L397 410.5 L402 412" fill="none" stroke="url(#nearG)" stroke-width="1.5" stroke-linejoin="round"/><path d="M322 388.6 L327 390.3 L332 392.1 L337 393.8 L342 395.5 L347 397.2 L352 398.9 L357 400.7 L362 402.4 L367 404.1 L372 405.9 L377 407.6 L382 409.3 L387 410.9 L392 412.5 L397 414 L402 415.5 L407 416.9 L412 418.3 L417 419.6 L422 420.8 L427 422 L432 423.2 L437 424.4 L442 425.7 L447 426.9 L452 428.2 L457 429.5 L462 430.8 L467 432.2 L472 433.6 L477 435 L482 436.4 L487 437.8 L492 439.2 L497 440.5 L502 441.8 L507 443 L512 444.2 L517 445.2 L522 446.2 L527 447.2 L532 448 L537 448.8 L542 449.6 L547 450.3 L552 451 L557 451.6 L562 452.3 L567 452.9 L572 453.6 L577 454.2 L582 454.9 L587 455.6 L592 456.4 L597 457.1 L602 457.9 L607 458.6 L612 459.2 L617 459.9 L622 460.4 L627 460.9 L632 461.4 L637 461.7 L642 462 L647 462.2 L648 462.2" fill="none" stroke="#b95077" stroke-width="1.7" opacity="0.8" stroke-linejoin="round"/><path d="M322 388.6 L327 390.3 L332 392.1 L337 393.8 L342 395.5 L347 397.2 L352 398.9 L357 400.7 L362 402.4 L367 404.1 L372 405.9 L377 407.6 L382 409.3 L387 410.9 L392 412.5 L397 414 L402 415.5" fill="none" stroke="url(#nearG)" stroke-width="1.7" stroke-linejoin="round"/><path d="M322 388.6 L327 390.7 L332 392.8 L337 394.9 L342 396.9 L347 398.9 L352 400.9 L357 402.8 L362 404.7 L367 406.5 L372 408.3 L377 410.1 L382 411.7 L387 413.4 L392 415 L397 416.7 L402 418.3 L407 419.9 L412 421.5 L417 423.1 L422 424.8 L427 426.4 L432 428 L437 429.7 L442 431.3 L447 432.8 L452 434.4 L457 435.9 L462 437.3 L467 438.8 L472 440.2 L477 441.6 L482 443 L487 444.4 L492 445.8 L497 447.2 L502 448.7 L507 450.1 L512 451.5 L517 452.9 L522 454.3 L527 455.7 L532 457 L537 458.2 L542 459.4 L547 460.5 L552 461.6 L557 462.5 L562 463.4 L567 464.2 L572 464.9 L577 465.5 L582 466.1 L587 466.6 L592 467.1 L597 467.6 L602 468.1 L607 468.6 L612 469 L617 469.5 L622 470 L627 470.5 L632 470.9 L637 471.3 L642 471.6 L647 471.9 L648 471.9" fill="none" stroke="#b44e74" stroke-width="1.5" opacity="0.8" stroke-linejoin="round"/><path d="M322 388.6 L327 390.7 L332 392.8 L337 394.9 L342 396.9 L347 398.9 L352 400.9 L357 402.8 L362 404.7 L367 406.5 L372 408.3 L377 410.1 L382 411.7 L387 413.4 L392 415 L397 416.7 L402 418.3" fill="none" stroke="url(#nearG)" stroke-width="1.5" stroke-linejoin="round"/><path d="M322 388.6 L327 390.8 L332 393 L337 395.3 L342 397.5 L347 399.7 L352 401.9 L357 404.1 L362 406.3 L367 408.4 L372 410.4 L377 412.4 L382 414.4 L387 416.3 L392 418.1 L397 419.9 L402 421.6 L407 423.3 L412 424.9 L417 426.6 L422 428.2 L427 429.9 L432 431.6 L437 433.4 L442 435.2 L447 437 L452 438.9 L457 440.8 L462 442.6 L467 444.5 L472 446.4 L477 448.2 L482 450 L487 451.7 L492 453.3 L497 454.9 L502 456.4 L507 457.8 L512 459.1 L517 460.4 L522 461.5 L527 462.6 L532 463.7 L537 464.7 L542 465.7 L547 466.6 L552 467.6 L557 468.5 L562 469.4 L567 470.4 L572 471.3 L577 472.3 L582 473.3 L587 474.3 L592 475.3 L597 476.4 L602 477.3 L607 478.3 L612 479.2 L617 480 L622 480.8 L627 481.5 L632 482.1 L637 482.6 L642 483 L647 483.3 L648 483.3" fill="none" stroke="#af4c71" stroke-width="1.8" opacity="0.8" stroke-linejoin="round"/><path d="M322 388.6 L327 390.8 L332 393 L337 395.3 L342 397.5 L347 399.7 L352 401.9 L357 404.1 L362 406.3 L367 408.4 L372 410.4 L377 412.4 L382 414.4 L387 416.3 L392 418.1 L397 419.9 L402 421.6" fill="none" stroke="url(#nearG)" stroke-width="1.8" stroke-linejoin="round"/><path d="M330 388.6 L335 387.6 L340 387 L345 386.8 L350 387.3 L355 388.3 L360 389.8 L365 391.7 L370 393.8 L375 395.8 L380 397.5 L385 398.7 L390 399.1 L395 398.6 L400 397.2 L405 394.7 L410 391.4 L415 387.4 L420 383 L425 378.4 L430 374.1 L435 370.3 L440 368.3 L445 367.6 L450 368.2 L455 370 L460 372.9 L465 376.6 L470 380.9 L475 385.5 L480 390 L485 394.3 L490 397.9 L495 400.6 L500 402.3 L505 402.9 L510 402.4 L515 400.7 L520 398.1 L525 394.7 L530 390.7 L535 386.4 L540 382.2 L545 378.2 L550 374.8 L555 372.1 L560 370.3 L565 369.5 L570 369.8 L575 371 L580 373.1" fill="none" stroke="#dc7679" stroke-width="1.1" opacity="0.62" stroke-linejoin="round"/><path d="M330 388.6 L335 389.1 L340 389.4 L345 389.3 L350 388.8 L355 388.1 L360 387.1 L365 386 L370 384.8 L375 383.5 L380 382.3 L385 381.2 L390 380.4 L395 379.8 L400 379.7 L405 380 L410 380.8 L415 382.1 L420 383.8 L425 386 L430 388.7 L435 391.6 L440 394.8 L445 397.9 L450 400.7 L455 403.3 L460 405.6 L465 407.5 L470 408.9 L475 409.9 L480 410.5 L485 410.5 L490 410.1 L495 409.2 L500 408 L505 406.4 L510 404.5 L515 402.4 L520 400.1 L525 397.8 L530 395.4 L535 393.2 L540 391.1 L545 389.2 L550 387.6 L555 386.3 L560 385.3 L565 384.8 L570 384.6 L575 384.9 L580 385.5" fill="none" stroke="#ea926f" stroke-width="1.1" opacity="0.62" stroke-linejoin="round"/><path d="M330 388.6 L335 388.2 L340 387.6 L345 386.9 L350 386.3 L355 385.7 L360 385.4 L365 385.2 L370 385.4 L375 385.9 L380 386.8 L385 388.1 L390 389.6 L395 391.5 L400 393.6 L405 395.9 L410 398.2 L415 400.4 L420 402.5 L425 404.2 L430 405.6 L435 406.6 L440 406.3 L445 405.6 L450 404.4 L455 402.8 L460 400.9 L465 398.8 L470 396.5 L475 394.1 L480 391.8 L485 389.6 L490 387.7 L495 386 L500 384.6 L505 383.7 L510 383.2 L515 383.2 L520 383.6 L525 384.4 L530 385.7 L535 387.3 L540 389.2 L545 391.3 L550 393.6 L555 395.9 L560 398.3 L565 400.6 L570 402.7 L575 404.5 L580 406.1" fill="none" stroke="#e68b72" stroke-width="1.1" opacity="0.62" stroke-linejoin="round"/><path d="M330 388.6 L335 389.5 L340 390.5 L345 391.6 L350 392.6 L355 393.4 L360 393.9 L365 394.1 L370 393.7 L375 392.9 L380 391.5 L385 389.6 L390 387.2 L395 384.4 L400 381.3 L405 378 L410 374.7 L415 371.4 L420 368.4 L425 365.8 L430 363.6 L435 362.1 L440 362.4 L445 363.4 L450 365 L455 367.2 L460 369.9 L465 373 L470 376.4 L475 379.9 L480 383.5 L485 386.9 L490 390.2 L495 393.1 L500 395.6 L505 397.6 L510 399.1 L515 399.9 L520 400.1 L525 399.7 L530 398.7 L535 397.1 L540 395 L545 392.4 L550 389.5 L555 386.3 L560 383 L565 379.6 L570 376.3 L575 373.1 L580 370.2" fill="none" stroke="#dc7778" stroke-width="1.1" opacity="0.62" stroke-linejoin="round"/><path d="M330 388.6 L335 389 L340 388.8 L345 388 L350 386.8 L355 385.2 L360 383.2 L365 381.1 L370 379 L375 377.1 L380 375.6 L385 374.5 L390 374.1 L395 374.4 L400 375.5 L405 377.5 L410 380.2 L415 383.7 L420 387.8 L425 392.3 L430 397.1 L435 401.9 L440 405.7 L445 408.8 L450 411.1 L455 412.4 L460 412.9 L465 412.4 L470 410.9 L475 408.7 L480 405.7 L485 402.1 L490 398 L495 393.7 L500 389.3 L505 384.9 L510 380.7 L515 376.9 L520 373.7 L525 371.1 L530 369.2 L535 368.1 L540 367.9 L545 368.4 L550 369.7 L555 371.8 L560 374.4 L565 377.6 L570 381.1 L575 384.9 L580 388.7" fill="none" stroke="#d56a7d" stroke-width="1.1" opacity="0.62" stroke-linejoin="round"/><path d="M330 388.6 L335 388.2 L340 387.5 L345 386.7 L350 385.8 L355 385.1 L360 384.6 L365 384.4 L370 384.7 L375 385.4 L380 386.6 L385 388.3 L390 390.5 L395 393 L400 395.8 L405 398.7 L410 401.7 L415 404.4 L420 406.9 L425 408.8 L430 410.2 L435 410.8 L440 409.9 L445 408.3 L450 406.2 L455 403.6 L460 400.7 L465 397.6 L470 394.5 L475 391.4 L480 388.6 L485 386.1 L490 384.1 L495 382.6 L500 381.8 L505 381.6 L510 382 L515 383.1 L520 384.8 L525 387 L530 389.6 L535 392.5 L540 395.6 L545 398.8 L550 401.9 L555 404.9 L560 407.6 L565 409.9 L570 411.7 L575 413.1 L580 413.8" fill="none" stroke="#d66b7c" stroke-width="1.1" opacity="0.62" stroke-linejoin="round"/><path d="M330 388.6 L335 387.8 L340 386.7 L345 385.5 L350 384.4 L355 383.5 L360 383.2 L365 383.5 L370 384.6 L375 386.4 L380 389 L385 392.1 L390 395.7 L395 399.4 L400 403.1 L405 406.4 L410 409 L415 410.8 L420 411.4 L425 410.8 L430 409 L435 405.9 L440 401.2 L445 396.1 L450 391 L455 386 L460 381.5 L465 377.8 L470 375 L475 373.3 L480 372.8 L485 373.5 L490 375.4 L495 378.3 L500 382.1 L505 386.6 L510 391.4 L515 396.3 L520 401.2 L525 405.5 L530 409.3 L535 412.2 L540 414.2 L545 415 L550 414.9 L555 413.6 L560 411.5 L565 408.6 L570 405 L575 401.2 L580 397.1" fill="none" stroke="#d86f7b" stroke-width="1.1" opacity="0.62" stroke-linejoin="round"/><path d="M330 388.6 L335 389.7 L340 391.1 L345 392.5 L350 394 L355 395.3 L360 396.3 L365 397 L370 397.2 L375 397 L380 396.2 L385 394.8 L390 392.9 L395 390.5 L400 387.6 L405 384.4 L410 381 L415 377.4 L420 373.9 L425 370.6 L430 367.6 L435 365.1 L440 364.3 L445 364.3 L450 365 L455 366.4 L460 368.4 L465 371 L470 374 L475 377.4 L480 381.1 L485 385 L490 388.9 L495 392.7 L500 396.3 L505 399.7 L510 402.6 L515 405.2 L520 407.1 L525 408.6 L530 409.4 L535 409.6 L540 409.1 L545 408.1 L550 406.6 L555 404.5 L560 402.1 L565 399.3 L570 396.2 L575 393 L580 389.8" fill="none" stroke="#e28374" stroke-width="1.1" opacity="0.62" stroke-linejoin="round"/><path d="M330 388.6 L335 388.8 L340 389.3 L345 390 L350 390.9 L355 392 L360 393 L365 394 L370 394.9 L375 395.5 L380 395.8 L385 395.8 L390 395.3 L395 394.5 L400 393.3 L405 391.8 L410 390 L415 388.1 L420 386 L425 384 L430 382.2 L435 380.7 L440 380.2 L445 380.2 L450 380.7 L455 381.7 L460 383.1 L465 384.9 L470 387.1 L475 389.4 L480 391.9 L485 394.3 L490 396.7 L495 398.9 L500 400.8 L505 402.4 L510 403.6 L515 404.4 L520 404.6 L525 404.5 L530 403.9 L535 402.9 L540 401.6 L545 400 L550 398.2 L555 396.4 L560 394.5 L565 392.7 L570 391.1 L575 389.7 L580 388.6" fill="none" stroke="#e99170" stroke-width="1.1" opacity="0.62" stroke-linejoin="round"/><path d="M382 362 L387 359.9 L392 357.9 L397 355.9 L402 354 L407 352.1 L412 350.2 L417 348.4 L422 346.6 L427 344.8 L432 343.1 L437 341.4 L442 339.6 L447 338 L452 336.3 L457 334.6 L462 333 L467 331.4 L472 329.9 L477 328.4 L482 326.9 L487 325.4 L492 323.9 L497 322.5 L502 321 L507 319.6 L512 318.2 L517 316.7 L522 315.3 L527 313.8 L532 312.4 L537 311 L542 309.6 L547 308.2 L552 306.9 L557 305.6 L560 305.6" fill="none" stroke="#c94c8e" stroke-width="2.6" opacity="0.72" stroke-linecap="round" stroke-linejoin="round"/><path d="M402 364.2 L407 362.8 L412 361.5 L417 360.2 L422 358.9 L427 357.7 L432 356.6 L437 355.4 L442 354.2 L447 352.9 L452 351.7 L457 350.3 L462 348.9 L467 347.5 L472 346 L477 344.5 L482 343.1 L487 341.8 L492 340.5 L497 339.3 L502 338.1 L507 337.1 L512 336.1 L517 335.1 L522 334.1 L527 333.2 L532 332.2 L537 331.1 L542 330.1 L547 329.1 L552 328.1 L557 327.1 L562 326.3 L567 325.5 L572 324.8 L577 324.2 L582 323.7 L585 323.7" fill="none" stroke="#c94c8e" stroke-width="2.2" opacity="0.72" stroke-linecap="round" stroke-linejoin="round"/><path d="M352 383.8 L357 383.3 L362 382.7 L367 381.9 L372 380.8 L377 379.4 L382 377.8 L387 375.8 L392 373.7 L397 371.5 L402 369.3 L407 367.2 L412 365.4 L417 364.1 L422 363.1 L427 362.4 L432 361.9 L437 361.4 L442 360.9 L447 360.4 L452 359.7 L457 359 L462 358.2 L467 357.4 L470 357.4" fill="none" stroke="#c94c8e" stroke-width="2.0" opacity="0.72" stroke-linecap="round" stroke-linejoin="round"/><path d="M362 400.8 L367 402 L372 402.9 L377 403.5 L382 403.9 L387 404 L392 404 L397 403.8 L402 403.5 L407 403.3 L412 403.2 L417 403.6 L422 404.3 L427 405.3 L432 406.6 L437 408 L442 409.6 L447 411.4 L452 413.1 L457 414.9 L462 416.6 L467 418.2 L472 419.8 L477 421.2 L482 422.5 L487 423.7 L492 424.8 L497 425.8 L502 426.7 L507 427.5 L512 428.3 L517 428.9 L520 428.9" fill="none" stroke="#c94c8e" stroke-width="2.4" opacity="0.72" stroke-linecap="round" stroke-linejoin="round"/><path d="M422 421.3 L427 422.6 L432 423.9 L437 425.1 L442 426.3 L447 427.5 L452 428.7 L457 429.8 L462 430.9 L467 432 L472 433.1 L477 434.2 L482 435.3 L487 436.4 L492 437.5 L497 438.6 L502 439.7 L507 440.8 L512 442 L517 443.2 L522 444.4 L527 445.6 L532 446.7 L537 447.9 L542 449.1 L547 450.2 L552 451.3 L557 452.4 L562 453.4 L567 454.3 L572 455.2 L577 456 L582 456.7 L587 457.3 L592 457.9 L597 458.3 L600 458.3" fill="none" stroke="#c94c8e" stroke-width="2.6" opacity="0.72" stroke-linecap="round" stroke-linejoin="round"/><path d="M472 448.8 L477 450.2 L482 451.6 L487 453 L492 454.3 L497 455.6 L502 456.9 L507 458.1 L512 459.4 L517 460.6 L522 461.8 L527 463 L532 464.3 L537 465.5 L542 466.8 L547 468 L552 469.3 L557 470.6 L562 471.8 L567 473.1 L572 474.3 L577 475.5 L582 476.7 L587 477.8 L592 478.9 L597 480 L602 480.9 L607 481.8 L612 482.7 L617 483.4 L622 484.1 L627 484.7 L632 485.3 L637 485.7 L640 485.7" fill="none" stroke="#c94c8e" stroke-width="2.0" opacity="0.72" stroke-linecap="round" stroke-linejoin="round"/><path d="M472 317.1 L477 315 L482 312.9 L487 310.7 L492 308.5 L497 306.3 L502 304.2 L507 302.2 L512 300.2 L517 298.4 L522 296.6 L527 295 L532 293.4 L537 291.9 L542 290.3 L547 288.8 L552 287.3 L557 285.7 L562 284.2 L567 282.7 L572 281.2 L577 279.8 L582 278.6 L587 277.5 L592 276.6 L597 275.8 L602 275.1 L607 274.6 L612 274 L617 273.5 L622 273 L627 272.5 L632 272 L637 271.5 L642 271 L647 270.7 L650 270.7" fill="none" stroke="#c94c8e" stroke-width="2.0" opacity="0.72" stroke-linecap="round" stroke-linejoin="round"/><path d="M342 390.5 L347 391 L352 391.5 L357 392 L362 392.4 L367 392.8 L372 393.2 L377 393.6 L382 394 L387 394.4 L392 395 L397 395.6 L402 396.5 L407 397.5 L412 398.7 L417 400.1 L422 401.5 L427 402.9 L432 404.3 L437 405.6 L440 405.6" fill="none" stroke="#c94c8e" stroke-width="1.8" opacity="0.72" stroke-linecap="round" stroke-linejoin="round"/><path d="M442 375.6 L447 375.6 L452 375.7 L457 375.9 L462 376.2 L467 376.5 L472 376.8 L477 377.1 L482 377.2 L487 377.1 L492 376.8 L497 376.2 L502 375.3 L507 374.1 L512 372.8 L517 371.3 L522 369.8 L527 368.4 L532 367.1 L537 365.9 L542 365 L547 364.3 L552 363.7 L557 363.5 L560 363.5" fill="none" stroke="#c94c8e" stroke-width="1.6" opacity="0.72" stroke-linecap="round" stroke-linejoin="round"/><path d="M322 389 C324.2 383.8 329.5 366.7 335 358 C340.5 349.3 347.8 341.8 355 337 C362.2 332.2 368.8 331.1 378 329.5 C387.2 327.9 399.7 329.2 410 327.5 C420.3 325.8 429 323.9 440 319 C451 314.1 460.3 305.3 476 298 C491.7 290.7 513.3 281.4 534 275 C554.7 268.6 578.3 262.9 600 259.5 C621.7 256.1 653.3 255.4 664 254.6" fill="none" stroke="#b85484" stroke-width="1.4" opacity="0.82"/><path d="M322 389 C324.7 385.2 331.7 372.8 338 366 C344.3 359.2 352.2 352.2 360 348 C367.8 343.8 375.8 342.6 385 341 C394.2 339.4 405 340.3 415 338.5 C425 336.7 434.2 334.6 445 330 C455.8 325.4 465.2 318.2 480 311 C494.8 303.8 514 293.8 534 287 C554 280.2 578.7 274.2 600 270.5 C621.3 266.8 651.7 265.9 662 265" fill="none" stroke="#bc5886" stroke-width="1.4" opacity="0.82"/><path d="M322 389 C325.3 386.2 335 377.2 342 372 C349 366.8 356 361.3 364 358 C372 354.7 380.7 353.3 390 352 C399.3 350.7 410 351.5 420 350 C430 348.5 439 347 450 343 C461 339 471.7 332.7 486 326 C500.3 319.3 517 309.2 536 303 C555 296.8 579 291.5 600 289 C621 286.5 651.7 288.2 662 288" fill="none" stroke="#c45c88" stroke-width="1.4" opacity="0.82"/><path d="M322 389 C324.2 394.2 329.5 411.3 335 420 C340.5 428.7 347.8 436.2 355 441 C362.2 445.8 368.8 446.8 378 448.5 C387.2 450.2 399.7 449.6 410 451.5 C420.3 453.4 429 455.6 440 460 C451 464.4 460.3 471.3 476 478 C491.7 484.7 513.3 494.2 534 500 C554.7 505.8 581 510 600 512.5 C619 515 640 514.6 648 515" fill="none" stroke="#a84a78" stroke-width="1.4" opacity="0.82"/><path d="M322 389 C324.7 392.8 331.7 405.2 338 412 C344.3 418.8 352.2 425.8 360 430 C367.8 434.2 375.8 435.2 385 437 C394.2 438.8 405 438.5 415 440.5 C425 442.5 434.2 444.8 445 449 C455.8 453.2 465.2 459.5 480 466 C494.8 472.5 514 482 534 488 C554 494 581 499.2 600 502 C619 504.8 640 504.3 648 504.8" fill="none" stroke="#b25080" stroke-width="1.4" opacity="0.82"/><path d="M322 389 C325.3 391.8 335 400.8 342 406 C349 411.2 356 416.7 364 420 C372 423.3 380.7 424.7 390 426 C399.3 427.3 410 426.3 420 428 C430 429.7 439 432 450 436 C461 440 471.7 445.7 486 452 C500.3 458.3 517 467.5 536 474 C555 480.5 581.3 487.6 600 491 C618.7 494.4 640 494.1 648 494.7" fill="none" stroke="#bc5684" stroke-width="1.4" opacity="0.82"/><ellipse cx="368" cy="388.6" rx="44" ry="59" fill="none" stroke="#cc6a8a" stroke-width="1.1" opacity="0.6"/><ellipse cx="362" cy="388.6" rx="36" ry="46" fill="none" stroke="#cc6a8a" stroke-width="1.1" opacity="0.5"/><ellipse cx="356" cy="388.6" rx="28" ry="33" fill="none" stroke="#cc6a8a" stroke-width="1.1" opacity="0.45"/><rect x="369" y="360" width="16" height="58" rx="7" fill="none" stroke="#b25a80" stroke-width="1" opacity="0.55"/><rect x="530.5" y="324" width="30" height="135" rx="12" fill="none" stroke="#b4507e" stroke-width="1.3" opacity="0.7"/><rect x="536" y="331" width="21" height="121" rx="12" fill="none" stroke="#b4507e" stroke-width="1.3" opacity="0.45"/><path d="M590 286 Q598 300 594 312" fill="none" stroke="#b04c78" stroke-width="1" opacity="0.6"/><path d="M592 448 Q600 490 588 520" fill="none" stroke="#a0406a" stroke-width="1" opacity="0.4" stroke-dasharray="5 3"/><path d="M171.5 381.8 L193 387.4 L226 370.5 L226 406.5 L193 389.8 L171.5 395.4 Z" fill="#f08648" opacity="0.9" filter="url(#blur1)"/><ellipse cx="221" cy="388.6" rx="8" ry="15" fill="#ffa65e" opacity="0.85" filter="url(#blur1)"/><ellipse cx="280" cy="388.6" rx="52" ry="58" fill="url(#glowO)" opacity="0.42"/><path d="M224 372.6 C244 365.6 256 342.6 268.5 300.6" fill="none" stroke="#e896a0" stroke-width="1.0" opacity="0.82"/><path d="M224 374.4 C244 368.2 256 347.7 268.5 310.4" fill="none" stroke="#eb9b9f" stroke-width="1.0" opacity="0.82"/><path d="M224 376.2 C244 370.7 256 352.8 268.5 320.2" fill="none" stroke="#eda09e" stroke-width="1.0" opacity="0.82"/><path d="M224 377.9 C244 373.3 256 357.9 268.5 329.9" fill="none" stroke="#f0a59d" stroke-width="1.0" opacity="0.82"/><path d="M224 379.7 C244 375.8 256 363 268.5 339.7" fill="none" stroke="#f2aa9c" stroke-width="1.0" opacity="0.82"/><path d="M224 381.5 C244 378.4 256 368.2 268.5 349.5" fill="none" stroke="#f5b09a" stroke-width="1.0" opacity="0.82"/><path d="M224 383.3 C244 380.9 256 373.3 268.5 359.3" fill="none" stroke="#f7b599" stroke-width="1.0" opacity="0.82"/><path d="M224 385 C244 383.5 256 378.4 268.5 369" fill="none" stroke="#faba98" stroke-width="1.0" opacity="0.82"/><path d="M224 386.8 C244 386 256 383.5 268.5 378.8" fill="none" stroke="#fcbf97" stroke-width="1.0" opacity="0.82"/><path d="M224 388.6 C244 388.6 256 388.6 268.5 388.6" fill="none" stroke="#ffc496" stroke-width="1.0" opacity="0.82"/><path d="M224 390.4 C244 391.2 256 393.7 268.5 398.4" fill="none" stroke="#fcbf97" stroke-width="1.0" opacity="0.82"/><path d="M224 392.2 C244 393.7 256 398.8 268.5 408.2" fill="none" stroke="#faba98" stroke-width="1.0" opacity="0.82"/><path d="M224 393.9 C244 396.3 256 403.9 268.5 417.9" fill="none" stroke="#f7b599" stroke-width="1.0" opacity="0.82"/><path d="M224 395.7 C244 398.8 256 409 268.5 427.7" fill="none" stroke="#f5b09a" stroke-width="1.0" opacity="0.82"/><path d="M224 397.5 C244 401.4 256 414.2 268.5 437.5" fill="none" stroke="#f2aa9c" stroke-width="1.0" opacity="0.82"/><path d="M224 399.3 C244 403.9 256 419.3 268.5 447.3" fill="none" stroke="#f0a59d" stroke-width="1.0" opacity="0.82"/><path d="M224 401 C244 406.5 256 424.4 268.5 457" fill="none" stroke="#eda09e" stroke-width="1.0" opacity="0.82"/><path d="M224 402.8 C244 409 256 429.5 268.5 466.8" fill="none" stroke="#eb9b9f" stroke-width="1.0" opacity="0.82"/><path d="M224 404.6 C244 411.6 256 434.6 268.5 476.6" fill="none" stroke="#e896a0" stroke-width="1.0" opacity="0.82"/><path d="M249.4 344.6 V432.6 M266.7 305.6 V471.6" stroke="#e8a8a0" stroke-width="0.9" opacity="0.6" fill="none"/><ellipse cx="174.6" cy="388.6" rx="1.6" ry="17" fill="none" stroke="#d48aa0" stroke-width="1.35" opacity="0.92"/><ellipse cx="179" cy="388.6" rx="2.2" ry="27" fill="none" stroke="#d48aa0" stroke-width="1.35" opacity="0.92"/><ellipse cx="185.4" cy="388.6" rx="2.4" ry="43" fill="none" stroke="#d48aa0" stroke-width="1.35" opacity="0.92"/><ellipse cx="194" cy="388.6" rx="2.6" ry="51" fill="none" stroke="#d48aa0" stroke-width="1.35" opacity="0.92"/><ellipse cx="203" cy="388.6" rx="2.8" ry="53.5" fill="none" stroke="#d48aa0" stroke-width="1.35" opacity="0.92"/><ellipse cx="212" cy="388.6" rx="2.8" ry="58" fill="none" stroke="#d48aa0" stroke-width="1.35" opacity="0.92"/><ellipse cx="221" cy="388.6" rx="3.0" ry="61" fill="none" stroke="#d48aa0" stroke-width="1.35" opacity="0.92"/><ellipse cx="227.4" cy="388.6" rx="2.2" ry="57" fill="none" stroke="#d48aa0" stroke-width="1.35" opacity="0.92"/><ellipse cx="232.4" cy="388.6" rx="2.4" ry="48" fill="none" stroke="#d48aa0" stroke-width="1.35" opacity="0.92"/><ellipse cx="236" cy="388.6" rx="1.4" ry="30" fill="none" stroke="#d48aa0" stroke-width="1.35" opacity="0.92"/><ellipse cx="263.4" cy="388.6" rx="1.6" ry="84" fill="none" stroke="#dc90a4" stroke-width="1.45" opacity="0.8"/><ellipse cx="266.6" cy="388.6" rx="2.6" ry="87" fill="none" stroke="#dc90a4" stroke-width="1.45" opacity="0.95"/><ellipse cx="270.6" cy="388.6" rx="2.2" ry="86" fill="none" stroke="#dc90a4" stroke-width="1.45" opacity="0.8"/><ellipse cx="282.4" cy="388.6" rx="2.3" ry="78" fill="none" stroke="#dc90a4" stroke-width="1.45" opacity="0.95"/><ellipse cx="294.6" cy="388.6" rx="3.0" ry="82.5" fill="none" stroke="#dc90a4" stroke-width="1.45" opacity="0.95"/><ellipse cx="307.9" cy="388.6" rx="2.7" ry="72" fill="none" stroke="#dc90a4" stroke-width="1.45" opacity="0.95"/><ellipse cx="315.7" cy="388.6" rx="1.9" ry="50" fill="none" stroke="#dc90a4" stroke-width="1.45" opacity="0.9"/><ellipse cx="319.4" cy="388.6" rx="2.6" ry="24" fill="none" stroke="#dc90a4" stroke-width="1.45" opacity="0.7"/><ellipse cx="321" cy="388.6" rx="34" ry="38" fill="url(#glowY)"/><path d="M322 381.6 Q360 383.6 398 388.6 Q360 393.6 322 395.6 Z" fill="#ffa050" opacity="0.55" filter="url(#blur1)"/><ellipse cx="320.2" cy="388" rx="5.4" ry="12.5" fill="#fff26a" filter="url(#blur1)"/>
<!-- p_boxes -->
<g fill="none" stroke="#f0f4f7" stroke-width="2.45" stroke-linecap="butt"><path d="M144.4 379 V595 Q144.4 604.5 154 604.5 H210"/><path d="M432 604.5 H565"/><path d="M780 604.5 H914"/><path d="M1037.3 482 V549"/><path d="M676 200 V252"/><path d="M676 548 V470"/><path d="M1034.2 272.5 V317"/></g><g fill="#f0f4f7"><path d="M671.6 250.5 L680.4 250.5 L676 259.5 Z"/><path d="M671.4 471.5 L680.6 471.5 L676 461.5 Z"/><path d="M1029.9 315.5 L1038.5 315.5 L1034.2 324 Z"/></g><rect x="564" y="119" width="217.3" height="81" rx="9" fill="#7b8da6"/><rect x="209" y="548.4" width="223.6" height="129.6" rx="9.5" fill="#7a8da7"/><rect x="563.6" y="548.4" width="217.6" height="129.6" rx="9.5" fill="#7a8da7"/><rect x="912.4" y="548.4" width="222" height="129.8" rx="9.5" fill="#7a8da7"/><circle cx="238.5" cy="572.9" r="12.4" fill="#17509f"/><text x="238.5" y="579.1" font-size="17.5" font-weight="700" fill="#f4f8fc" text-anchor="middle">3</text><circle cx="592.8" cy="572.8" r="12.4" fill="#17509f"/><text x="592.8" y="579.0" font-size="17.5" font-weight="700" fill="#f4f8fc" text-anchor="middle">2</text><circle cx="940.8" cy="573.0" r="12.4" fill="#17509f"/><text x="940.8" y="579.2" font-size="17.5" font-weight="700" fill="#f4f8fc" text-anchor="middle">3</text>
<!-- p_camera -->
<g fill="#c9d2dc"><rect x="119.6" y="360.4" width="5" height="5"/><rect x="143.6" y="360.4" width="6" height="5"/><rect x="119.6" y="416.6" width="5" height="5"/></g><rect x="157.5" y="374.6" width="12.4" height="30.2" fill="#1c3652" stroke="#eef2f6" stroke-width="2"/><rect x="113.4" y="365.2" width="45" height="51.6" fill="#a9b6c7" stroke="#eef2f6" stroke-width="1.3"/><rect x="115.6" y="376" width="38.6" height="31" fill="#2c4e6d"/><rect x="154.2" y="376" width="4" height="31" fill="#c5cfda"/><path d="M144.4 378.5 V420" stroke="#f0f4f7" stroke-width="2.45"/><path d="M141.6 396.5 L144.4 399.5" stroke="#eef2f6" stroke-width="1.4"/>
<!-- p_panel -->
<rect x="581.3" y="308" width="194.7" height="139" fill="#7f8c99"/><rect x="583.1" y="310" width="191" height="135.2" fill="#3b4858"/><rect x="583.1" y="441" width="191" height="4.2" fill="#26384a"/><rect x="586" y="313.6" width="182.9" height="128.5" fill="url(#panelG)"/><g fill="none" stroke="#62b6f8" stroke-width="1.05" opacity="0.92"><path d="M586.6 327.6 C610.3 330.6 615 356.5 634 359.5 S645 358.5 651 362.5"/><path d="M586.6 332.7 C610.3 335.4 615 359 634 361.7 S645 361.2 651 365.2"/><path d="M586.6 337.8 C610.3 340.3 615 361.4 634 363.9 S645 364 651 368"/><path d="M586.6 343 C610.3 345.1 615 363.9 634 366 S645 366.7 651 370.7"/><path d="M586.6 348.1 C610.3 350 615 366.3 634 368.2 S645 369.4 651 373.4"/><path d="M586.6 353.2 C610.3 354.8 615 368.8 634 370.4 S645 372.1 651 376.1"/><path d="M586.6 358.3 C610.3 359.7 615 371.2 634 372.6 S645 374.9 651 378.9"/><path d="M586.6 363.4 C610.3 364.5 615 373.7 634 374.8 S645 377.6 651 381.6"/><path d="M586.6 368.5 C610.3 369.4 615 376.1 634 377 S645 380.3 651 384.3"/><path d="M586.6 373.7 C610.3 374.2 615 378.6 634 379.1 S645 383 651 387"/><path d="M586.6 378.8 C610.3 379.1 615 381 634 381.3 S645 385.8 651 389.8"/><path d="M586.6 383.9 C610.3 383.9 615 383.5 634 383.5 S645 388.5 651 392.5"/><path d="M586.6 389 C610.3 388.7 615 386 634 385.7 S645 391.2 651 395.2"/><path d="M586.6 394.1 C610.3 393.6 615 388.4 634 387.9 S645 394 651 398"/><path d="M586.6 399.3 C610.3 398.4 615 390.9 634 390 S645 396.7 651 400.7"/><path d="M586.6 404.4 C610.3 403.3 615 393.3 634 392.2 S645 399.4 651 403.4"/><path d="M586.6 409.5 C610.3 408.1 615 395.8 634 394.4 S645 402.1 651 406.1"/><path d="M586.6 414.6 C610.3 413 615 398.2 634 396.6 S645 404.9 651 408.9"/><path d="M586.6 419.7 C610.3 417.8 615 400.7 634 398.8 S645 407.6 651 411.6"/><path d="M586.6 424.8 C610.3 422.7 615 403.1 634 401 S645 410.3 651 414.3"/><path d="M586.6 430 C610.3 427.5 615 405.6 634 403.1 S645 413 651 417"/><path d="M586.6 435.1 C610.3 432.4 615 408 634 405.3 S645 415.8 651 419.8"/><path d="M586.6 440.2 C610.3 437.2 615 410.5 634 407.5 S645 418.5 651 422.5"/><path d="M768.4 327.6 C746.2 330.6 741.8 358 724 361 S713 360 707 364"/><path d="M768.4 332.7 C746.2 335.4 741.8 360.5 724 363.2 S713 362.7 707 366.7"/><path d="M768.4 337.8 C746.2 340.3 741.8 362.9 724 365.4 S713 365.5 707 369.5"/><path d="M768.4 343 C746.2 345.1 741.8 365.4 724 367.5 S713 368.2 707 372.2"/><path d="M768.4 348.1 C746.2 350 741.8 367.8 724 369.7 S713 370.9 707 374.9"/><path d="M768.4 353.2 C746.2 354.8 741.8 370.3 724 371.9 S713 373.6 707 377.6"/><path d="M768.4 358.3 C746.2 359.7 741.8 372.7 724 374.1 S713 376.4 707 380.4"/><path d="M768.4 363.4 C746.2 364.5 741.8 375.2 724 376.3 S713 379.1 707 383.1"/><path d="M768.4 368.5 C746.2 369.4 741.8 377.6 724 378.5 S713 381.8 707 385.8"/><path d="M768.4 373.7 C746.2 374.2 741.8 380.1 724 380.6 S713 384.5 707 388.5"/><path d="M768.4 378.8 C746.2 379.1 741.8 382.5 724 382.8 S713 387.3 707 391.3"/><path d="M768.4 383.9 C746.2 383.9 741.8 385 724 385 S713 390 707 394"/><path d="M768.4 389 C746.2 388.7 741.8 387.5 724 387.2 S713 392.7 707 396.7"/><path d="M768.4 394.1 C746.2 393.6 741.8 389.9 724 389.4 S713 395.5 707 399.5"/><path d="M768.4 399.3 C746.2 398.4 741.8 392.4 724 391.5 S713 398.2 707 402.2"/><path d="M768.4 404.4 C746.2 403.3 741.8 394.8 724 393.7 S713 400.9 707 404.9"/><path d="M768.4 409.5 C746.2 408.1 741.8 397.3 724 395.9 S713 403.6 707 407.6"/><path d="M768.4 414.6 C746.2 413 741.8 399.7 724 398.1 S713 406.4 707 410.4"/><path d="M768.4 419.7 C746.2 417.8 741.8 402.2 724 400.3 S713 409.1 707 413.1"/><path d="M768.4 424.8 C746.2 422.7 741.8 404.6 724 402.5 S713 411.8 707 415.8"/><path d="M768.4 430 C746.2 427.5 741.8 407.1 724 404.6 S713 414.5 707 418.5"/><path d="M768.4 435.1 C746.2 432.4 741.8 409.5 724 406.8 S713 417.3 707 421.3"/><path d="M768.4 440.2 C746.2 437.2 741.8 412 724 409 S713 420 707 424"/></g>
<!-- p_human -->
<path d="M644.2 422 C644.2 426.2 643.6 439.7 644 447 C644.4 454.3 645.5 460.2 646.5 466 C647.5 471.8 649.5 477.7 650 482 C650.5 486.3 650 488 649.6 492 C649.2 496 647.8 501 647.8 506 C647.8 511 648.4 516.3 649.6 522 C650.8 527.7 653.8 535.7 655 540 C656.2 544.3 655.2 546.7 657 548 C658.8 549.3 664.2 549.3 665.5 548 C666.8 546.7 664.7 544 665 540 C665.3 536 666.9 529.5 667.5 524 C668.1 518.5 668.5 512.3 668.8 507 C669 501.7 668.9 496.2 669 492 C669.1 487.8 669.2 487 669.6 482 C670 477 671.1 467.8 671.5 462 C671.9 456.2 671.7 451.3 672.2 447 C672.7 442.7 674.1 439.5 674.6 436 C675.1 432.5 675.2 429.3 675.4 426 C675.6 422.7 675.9 417.7 676 416 Z" fill="url(#legG)" opacity="0.82"/><path d="M644.2 422 C644.2 426.2 643.6 439.7 644 447 C644.4 454.3 645.5 460.2 646.5 466 C647.5 471.8 649.5 477.7 650 482 C650.5 486.3 650 488 649.6 492 C649.2 496 647.8 501 647.8 506 C647.8 511 648.4 516.3 649.6 522 C650.8 527.7 653.8 535.7 655 540 C656.2 544.3 655.2 546.7 657 548 C658.8 549.3 664.2 549.3 665.5 548 C666.8 546.7 664.7 544 665 540 C665.3 536 666.9 529.5 667.5 524 C668.1 518.5 668.5 512.3 668.8 507 C669 501.7 668.9 496.2 669 492 C669.1 487.8 669.2 487 669.6 482 C670 477 671.1 467.8 671.5 462 C671.9 456.2 671.7 451.3 672.2 447 C672.7 442.7 674.1 439.5 674.6 436 C675.1 432.5 675.2 429.3 675.4 426 C675.6 422.7 675.9 417.7 676 416 Z" fill="url(#mesh)" opacity="0.7"/><path d="M644.2 422 C644.2 426.2 643.6 439.7 644 447 C644.4 454.3 645.5 460.2 646.5 466 C647.5 471.8 649.5 477.7 650 482 C650.5 486.3 650 488 649.6 492 C649.2 496 647.8 501 647.8 506 C647.8 511 648.4 516.3 649.6 522 C650.8 527.7 653.8 535.7 655 540 C656.2 544.3 655.2 546.7 657 548 C658.8 549.3 664.2 549.3 665.5 548 C666.8 546.7 664.7 544 665 540 C665.3 536 666.9 529.5 667.5 524 C668.1 518.5 668.5 512.3 668.8 507 C669 501.7 668.9 496.2 669 492 C669.1 487.8 669.2 487 669.6 482 C670 477 671.1 467.8 671.5 462 C671.9 456.2 671.7 451.3 672.2 447 C672.7 442.7 674.1 439.5 674.6 436 C675.1 432.5 675.2 429.3 675.4 426 C675.6 422.7 675.9 417.7 676 416" fill="none" stroke="#f0b2d6" stroke-width="1.2" stroke-linejoin="round"/><path d="M709.8 422 C709.8 426.2 710.4 439.7 710 447 C709.6 454.3 708.5 460.2 707.5 466 C706.5 471.8 704.5 477.7 704 482 C703.5 486.3 704 488 704.4 492 C704.8 496 706.2 501 706.2 506 C706.2 511 705.6 516.3 704.4 522 C703.2 527.7 700.2 535.7 699 540 C697.8 544.3 698.8 546.7 697 548 C695.2 549.3 689.8 549.3 688.5 548 C687.2 546.7 689.3 544 689 540 C688.7 536 687.1 529.5 686.5 524 C685.9 518.5 685.5 512.3 685.2 507 C685 501.7 685.1 496.2 685 492 C684.9 487.8 684.8 487 684.4 482 C684 477 682.9 467.8 682.5 462 C682.1 456.2 682.3 451.3 681.8 447 C681.3 442.7 679.9 439.5 679.4 436 C678.9 432.5 678.8 429.3 678.6 426 C678.4 422.7 678.1 417.7 678 416 Z" fill="url(#legG)" opacity="0.82"/><path d="M709.8 422 C709.8 426.2 710.4 439.7 710 447 C709.6 454.3 708.5 460.2 707.5 466 C706.5 471.8 704.5 477.7 704 482 C703.5 486.3 704 488 704.4 492 C704.8 496 706.2 501 706.2 506 C706.2 511 705.6 516.3 704.4 522 C703.2 527.7 700.2 535.7 699 540 C697.8 544.3 698.8 546.7 697 548 C695.2 549.3 689.8 549.3 688.5 548 C687.2 546.7 689.3 544 689 540 C688.7 536 687.1 529.5 686.5 524 C685.9 518.5 685.5 512.3 685.2 507 C685 501.7 685.1 496.2 685 492 C684.9 487.8 684.8 487 684.4 482 C684 477 682.9 467.8 682.5 462 C682.1 456.2 682.3 451.3 681.8 447 C681.3 442.7 679.9 439.5 679.4 436 C678.9 432.5 678.8 429.3 678.6 426 C678.4 422.7 678.1 417.7 678 416 Z" fill="url(#mesh)" opacity="0.7"/><path d="M709.8 422 C709.8 426.2 710.4 439.7 710 447 C709.6 454.3 708.5 460.2 707.5 466 C706.5 471.8 704.5 477.7 704 482 C703.5 486.3 704 488 704.4 492 C704.8 496 706.2 501 706.2 506 C706.2 511 705.6 516.3 704.4 522 C703.2 527.7 700.2 535.7 699 540 C697.8 544.3 698.8 546.7 697 548 C695.2 549.3 689.8 549.3 688.5 548 C687.2 546.7 689.3 544 689 540 C688.7 536 687.1 529.5 686.5 524 C685.9 518.5 685.5 512.3 685.2 507 C685 501.7 685.1 496.2 685 492 C684.9 487.8 684.8 487 684.4 482 C684 477 682.9 467.8 682.5 462 C682.1 456.2 682.3 451.3 681.8 447 C681.3 442.7 679.9 439.5 679.4 436 C678.9 432.5 678.8 429.3 678.6 426 C678.4 422.7 678.1 417.7 678 416" fill="none" stroke="#f0b2d6" stroke-width="1.2" stroke-linejoin="round"/><g stroke="#f0b4d8" stroke-width="0.7" opacity="0.8" fill="none"><path d="M656 496 Q655.8 520 659.8 546"/><path d="M659 496 Q658.9 520 661.2 546"/><path d="M662 496 Q662.1 520 662.8 546"/><path d="M665 496 Q665.2 520 664.2 546"/><path d="M689 496 Q688.8 520 689.8 546"/><path d="M692 496 Q691.9 520 691.2 546"/><path d="M695 496 Q695.1 520 692.8 546"/><path d="M698 496 Q698.2 520 694.2 546"/></g><g clip-path="url(#inPanel)"><path d="M644.2 422 C644.2 426.2 643.6 439.7 644 447 C644.4 454.3 645.5 460.2 646.5 466 C647.5 471.8 649.5 477.7 650 482 C650.5 486.3 650 488 649.6 492 C649.2 496 647.8 501 647.8 506 C647.8 511 648.4 516.3 649.6 522 C650.8 527.7 653.8 535.7 655 540 C656.2 544.3 655.2 546.7 657 548 C658.8 549.3 664.2 549.3 665.5 548 C666.8 546.7 664.7 544 665 540 C665.3 536 666.9 529.5 667.5 524 C668.1 518.5 668.5 512.3 668.8 507 C669 501.7 668.9 496.2 669 492 C669.1 487.8 669.2 487 669.6 482 C670 477 671.1 467.8 671.5 462 C671.9 456.2 671.7 451.3 672.2 447 C672.7 442.7 674.1 439.5 674.6 436 C675.1 432.5 675.2 429.3 675.4 426 C675.6 422.7 675.9 417.7 676 416 Z" fill="#c88ad0" opacity="0.35"/><path d="M709.8 422 C709.8 426.2 710.4 439.7 710 447 C709.6 454.3 708.5 460.2 707.5 466 C706.5 471.8 704.5 477.7 704 482 C703.5 486.3 704 488 704.4 492 C704.8 496 706.2 501 706.2 506 C706.2 511 705.6 516.3 704.4 522 C703.2 527.7 700.2 535.7 699 540 C697.8 544.3 698.8 546.7 697 548 C695.2 549.3 689.8 549.3 688.5 548 C687.2 546.7 689.3 544 689 540 C688.7 536 687.1 529.5 686.5 524 C685.9 518.5 685.5 512.3 685.2 507 C685 501.7 685.1 496.2 685 492 C684.9 487.8 684.8 487 684.4 482 C684 477 682.9 467.8 682.5 462 C682.1 456.2 682.3 451.3 681.8 447 C681.3 442.7 679.9 439.5 679.4 436 C678.9 432.5 678.8 429.3 678.6 426 C678.4 422.7 678.1 417.7 678 416 Z" fill="#c88ad0" opacity="0.35"/></g><path d="M662.8 426 Q658.3 452 659.8 478" stroke="#ea6226" stroke-width="3.6" fill="none" opacity="0.92" stroke-linecap="round"/><ellipse cx="659.8" cy="483" rx="5.6" ry="7.6" fill="#f4a03a"/><ellipse cx="659.8" cy="482" rx="3.2" ry="4.4" fill="#ffd274" opacity="0.95"/><path d="M691.2 426 Q695.7 452 694.2 478" stroke="#ea6226" stroke-width="3.6" fill="none" opacity="0.92" stroke-linecap="round"/><ellipse cx="694.2" cy="483" rx="5.6" ry="7.6" fill="#f4a03a"/><ellipse cx="694.2" cy="482" rx="3.2" ry="4.4" fill="#ffd274" opacity="0.95"/><path d="M648 319 C646.5 316.8 643.2 319.3 641.5 322.5 C639.8 325.7 638.7 332.8 637.6 338 C636.5 343.2 635.9 348.8 635 354 C634.1 359.2 633.5 363.3 632 369 C630.5 374.7 627.8 382.2 626 388 C624.2 393.8 622.7 399.3 621 404 C619.3 408.7 617.5 412.3 616 416 C614.5 419.7 612.8 422.5 612 426 C611.2 429.5 610.9 434.1 611 437 C611.1 439.9 611.7 442.7 612.5 443.5 C613.3 444.3 615 443.2 615.8 442 C616.6 440.8 616.8 435.8 617.4 436 C618 436.2 618.7 442.4 619.6 443 C620.5 443.6 621.9 442.1 622.6 439.6 C623.3 437.1 623.2 432.3 624 428 C624.8 423.7 626.1 418.8 627.6 414 C629.1 409.2 630.9 404.3 633 399 C635.1 393.7 638 387.5 640 382 C642 376.5 643.6 371.3 645 366 C646.4 360.7 647.7 355 648.6 350 C649.5 345 650.7 341.2 650.6 336 C650.5 330.8 649.5 321.2 648 319 Z" fill="#5a3890"/><path d="M648 319 C646.5 316.8 643.2 319.3 641.5 322.5 C639.8 325.7 638.7 332.8 637.6 338 C636.5 343.2 635.9 348.8 635 354 C634.1 359.2 633.5 363.3 632 369 C630.5 374.7 627.8 382.2 626 388 C624.2 393.8 622.7 399.3 621 404 C619.3 408.7 617.5 412.3 616 416 C614.5 419.7 612.8 422.5 612 426 C611.2 429.5 610.9 434.1 611 437 C611.1 439.9 611.7 442.7 612.5 443.5 C613.3 444.3 615 443.2 615.8 442 C616.6 440.8 616.8 435.8 617.4 436 C618 436.2 618.7 442.4 619.6 443 C620.5 443.6 621.9 442.1 622.6 439.6 C623.3 437.1 623.2 432.3 624 428 C624.8 423.7 626.1 418.8 627.6 414 C629.1 409.2 630.9 404.3 633 399 C635.1 393.7 638 387.5 640 382 C642 376.5 643.6 371.3 645 366 C646.4 360.7 647.7 355 648.6 350 C649.5 345 650.7 341.2 650.6 336 C650.5 330.8 649.5 321.2 648 319 Z" fill="#b684c4" opacity="0.75" clip-path="url(#foreL)"/><path d="M648 319 C646.5 316.8 643.2 319.3 641.5 322.5 C639.8 325.7 638.7 332.8 637.6 338 C636.5 343.2 635.9 348.8 635 354 C634.1 359.2 633.5 363.3 632 369 C630.5 374.7 627.8 382.2 626 388 C624.2 393.8 622.7 399.3 621 404 C619.3 408.7 617.5 412.3 616 416 C614.5 419.7 612.8 422.5 612 426 C611.2 429.5 610.9 434.1 611 437 C611.1 439.9 611.7 442.7 612.5 443.5 C613.3 444.3 615 443.2 615.8 442 C616.6 440.8 616.8 435.8 617.4 436 C618 436.2 618.7 442.4 619.6 443 C620.5 443.6 621.9 442.1 622.6 439.6 C623.3 437.1 623.2 432.3 624 428 C624.8 423.7 626.1 418.8 627.6 414 C629.1 409.2 630.9 404.3 633 399 C635.1 393.7 638 387.5 640 382 C642 376.5 643.6 371.3 645 366 C646.4 360.7 647.7 355 648.6 350 C649.5 345 650.7 341.2 650.6 336 C650.5 330.8 649.5 321.2 648 319 Z" fill="url(#dotsD)" opacity="0.55" clip-path="url(#upArm)"/><path d="M648 319 C646.5 316.8 643.2 319.3 641.5 322.5 C639.8 325.7 638.7 332.8 637.6 338 C636.5 343.2 635.9 348.8 635 354 C634.1 359.2 633.5 363.3 632 369 C630.5 374.7 627.8 382.2 626 388 C624.2 393.8 622.7 399.3 621 404 C619.3 408.7 617.5 412.3 616 416 C614.5 419.7 612.8 422.5 612 426 C611.2 429.5 610.9 434.1 611 437 C611.1 439.9 611.7 442.7 612.5 443.5 C613.3 444.3 615 443.2 615.8 442 C616.6 440.8 616.8 435.8 617.4 436 C618 436.2 618.7 442.4 619.6 443 C620.5 443.6 621.9 442.1 622.6 439.6 C623.3 437.1 623.2 432.3 624 428 C624.8 423.7 626.1 418.8 627.6 414 C629.1 409.2 630.9 404.3 633 399 C635.1 393.7 638 387.5 640 382 C642 376.5 643.6 371.3 645 366 C646.4 360.7 647.7 355 648.6 350 C649.5 345 650.7 341.2 650.6 336 C650.5 330.8 649.5 321.2 648 319 Z" fill="url(#meshW)" opacity="0.55"/><path d="M648 319 C646.5 316.8 643.2 319.3 641.5 322.5 C639.8 325.7 638.7 332.8 637.6 338 C636.5 343.2 635.9 348.8 635 354 C634.1 359.2 633.5 363.3 632 369 C630.5 374.7 627.8 382.2 626 388 C624.2 393.8 622.7 399.3 621 404 C619.3 408.7 617.5 412.3 616 416 C614.5 419.7 612.8 422.5 612 426 C611.2 429.5 610.9 434.1 611 437 C611.1 439.9 611.7 442.7 612.5 443.5 C613.3 444.3 615 443.2 615.8 442 C616.6 440.8 616.8 435.8 617.4 436 C618 436.2 618.7 442.4 619.6 443 C620.5 443.6 621.9 442.1 622.6 439.6 C623.3 437.1 623.2 432.3 624 428 C624.8 423.7 626.1 418.8 627.6 414 C629.1 409.2 630.9 404.3 633 399 C635.1 393.7 638 387.5 640 382 C642 376.5 643.6 371.3 645 366 C646.4 360.7 647.7 355 648.6 350 C649.5 345 650.7 341.2 650.6 336 C650.5 330.8 649.5 321.2 648 319 Z" fill="none" stroke="#f2cdec" stroke-width="1.25" stroke-linejoin="round"/><path d="M706 319 C707.5 316.8 710.8 319.3 712.5 322.5 C714.2 325.7 715.3 332.8 716.4 338 C717.5 343.2 718.1 348.8 719 354 C719.9 359.2 720.5 363.3 722 369 C723.5 374.7 726.2 382.2 728 388 C729.8 393.8 731.3 399.3 733 404 C734.7 408.7 736.5 412.3 738 416 C739.5 419.7 741.2 422.5 742 426 C742.8 429.5 743.1 434.1 743 437 C742.9 439.9 742.3 442.7 741.5 443.5 C740.7 444.3 739 443.2 738.2 442 C737.4 440.8 737.2 435.8 736.6 436 C736 436.2 735.3 442.4 734.4 443 C733.5 443.6 732.1 442.1 731.4 439.6 C730.7 437.1 730.8 432.3 730 428 C729.2 423.7 727.9 418.8 726.4 414 C724.9 409.2 723.1 404.3 721 399 C718.9 393.7 716 387.5 714 382 C712 376.5 710.4 371.3 709 366 C707.6 360.7 706.3 355 705.4 350 C704.5 345 703.3 341.2 703.4 336 C703.5 330.8 704.5 321.2 706 319 Z" fill="#5a3890"/><path d="M706 319 C707.5 316.8 710.8 319.3 712.5 322.5 C714.2 325.7 715.3 332.8 716.4 338 C717.5 343.2 718.1 348.8 719 354 C719.9 359.2 720.5 363.3 722 369 C723.5 374.7 726.2 382.2 728 388 C729.8 393.8 731.3 399.3 733 404 C734.7 408.7 736.5 412.3 738 416 C739.5 419.7 741.2 422.5 742 426 C742.8 429.5 743.1 434.1 743 437 C742.9 439.9 742.3 442.7 741.5 443.5 C740.7 444.3 739 443.2 738.2 442 C737.4 440.8 737.2 435.8 736.6 436 C736 436.2 735.3 442.4 734.4 443 C733.5 443.6 732.1 442.1 731.4 439.6 C730.7 437.1 730.8 432.3 730 428 C729.2 423.7 727.9 418.8 726.4 414 C724.9 409.2 723.1 404.3 721 399 C718.9 393.7 716 387.5 714 382 C712 376.5 710.4 371.3 709 366 C707.6 360.7 706.3 355 705.4 350 C704.5 345 703.3 341.2 703.4 336 C703.5 330.8 704.5 321.2 706 319 Z" fill="#b684c4" opacity="0.75" clip-path="url(#foreR)"/><path d="M706 319 C707.5 316.8 710.8 319.3 712.5 322.5 C714.2 325.7 715.3 332.8 716.4 338 C717.5 343.2 718.1 348.8 719 354 C719.9 359.2 720.5 363.3 722 369 C723.5 374.7 726.2 382.2 728 388 C729.8 393.8 731.3 399.3 733 404 C734.7 408.7 736.5 412.3 738 416 C739.5 419.7 741.2 422.5 742 426 C742.8 429.5 743.1 434.1 743 437 C742.9 439.9 742.3 442.7 741.5 443.5 C740.7 444.3 739 443.2 738.2 442 C737.4 440.8 737.2 435.8 736.6 436 C736 436.2 735.3 442.4 734.4 443 C733.5 443.6 732.1 442.1 731.4 439.6 C730.7 437.1 730.8 432.3 730 428 C729.2 423.7 727.9 418.8 726.4 414 C724.9 409.2 723.1 404.3 721 399 C718.9 393.7 716 387.5 714 382 C712 376.5 710.4 371.3 709 366 C707.6 360.7 706.3 355 705.4 350 C704.5 345 703.3 341.2 703.4 336 C703.5 330.8 704.5 321.2 706 319 Z" fill="url(#dotsD)" opacity="0.55" clip-path="url(#upArm)"/><path d="M706 319 C707.5 316.8 710.8 319.3 712.5 322.5 C714.2 325.7 715.3 332.8 716.4 338 C717.5 343.2 718.1 348.8 719 354 C719.9 359.2 720.5 363.3 722 369 C723.5 374.7 726.2 382.2 728 388 C729.8 393.8 731.3 399.3 733 404 C734.7 408.7 736.5 412.3 738 416 C739.5 419.7 741.2 422.5 742 426 C742.8 429.5 743.1 434.1 743 437 C742.9 439.9 742.3 442.7 741.5 443.5 C740.7 444.3 739 443.2 738.2 442 C737.4 440.8 737.2 435.8 736.6 436 C736 436.2 735.3 442.4 734.4 443 C733.5 443.6 732.1 442.1 731.4 439.6 C730.7 437.1 730.8 432.3 730 428 C729.2 423.7 727.9 418.8 726.4 414 C724.9 409.2 723.1 404.3 721 399 C718.9 393.7 716 387.5 714 382 C712 376.5 710.4 371.3 709 366 C707.6 360.7 706.3 355 705.4 350 C704.5 345 703.3 341.2 703.4 336 C703.5 330.8 704.5 321.2 706 319 Z" fill="url(#meshW)" opacity="0.55"/><path d="M706 319 C707.5 316.8 710.8 319.3 712.5 322.5 C714.2 325.7 715.3 332.8 716.4 338 C717.5 343.2 718.1 348.8 719 354 C719.9 359.2 720.5 363.3 722 369 C723.5 374.7 726.2 382.2 728 388 C729.8 393.8 731.3 399.3 733 404 C734.7 408.7 736.5 412.3 738 416 C739.5 419.7 741.2 422.5 742 426 C742.8 429.5 743.1 434.1 743 437 C742.9 439.9 742.3 442.7 741.5 443.5 C740.7 444.3 739 443.2 738.2 442 C737.4 440.8 737.2 435.8 736.6 436 C736 436.2 735.3 442.4 734.4 443 C733.5 443.6 732.1 442.1 731.4 439.6 C730.7 437.1 730.8 432.3 730 428 C729.2 423.7 727.9 418.8 726.4 414 C724.9 409.2 723.1 404.3 721 399 C718.9 393.7 716 387.5 714 382 C712 376.5 710.4 371.3 709 366 C707.6 360.7 706.3 355 705.4 350 C704.5 345 703.3 341.2 703.4 336 C703.5 330.8 704.5 321.2 706 319 Z" fill="none" stroke="#f2cdec" stroke-width="1.25" stroke-linejoin="round"/><g clip-path="url(#inFrame)"><path d="M670 299 C669.9 300.7 670.8 306.4 669.5 309 C668.2 311.6 665.2 312.9 662 314.5 C658.8 316.1 653 317.1 650 318.5 C647 319.9 644.4 319.8 644 323 C643.6 326.2 646.4 333.2 647.5 338 C648.6 342.8 649.8 347 650.5 352 C651.2 357 651.8 363 652 368 C652.2 373 652.2 377.3 651.5 382 C650.8 386.7 648.6 391.3 647.5 396 C646.4 400.7 645.5 405.7 645 410 C644.5 414.3 644.3 420 644.2 422 M684 299 C684.1 300.7 683.2 306.4 684.5 309 C685.8 311.6 688.8 312.9 692 314.5 C695.2 316.1 701 317.1 704 318.5 C707 319.9 709.6 319.8 710 323 C710.4 326.2 707.6 333.2 706.5 338 C705.4 342.8 704.2 347 703.5 352 C702.8 357 702.2 363 702 368 C701.8 373 701.8 377.3 702.5 382 C703.2 386.7 705.4 391.3 706.5 396 C707.6 400.7 708.5 405.7 709 410 C709.5 414.3 709.7 420 709.8 422" fill="none" stroke="#fbe0f4" stroke-width="3.2" opacity="0.5" filter="url(#blur1)"/><path d="M648 319 C646.5 316.8 643.2 319.3 641.5 322.5 C639.8 325.7 638.7 332.8 637.6 338 C636.5 343.2 635.9 348.8 635 354 C634.1 359.2 633.5 363.3 632 369 C630.5 374.7 627.8 382.2 626 388 C624.2 393.8 622.7 399.3 621 404 C619.3 408.7 617.5 412.3 616 416 C614.5 419.7 612.8 422.5 612 426 C611.2 429.5 610.9 434.1 611 437 C611.1 439.9 611.7 442.7 612.5 443.5 C613.3 444.3 615 443.2 615.8 442 C616.6 440.8 616.8 435.8 617.4 436 C618 436.2 618.7 442.4 619.6 443 C620.5 443.6 621.9 442.1 622.6 439.6 C623.3 437.1 623.2 432.3 624 428 C624.8 423.7 626.1 418.8 627.6 414 C629.1 409.2 630.9 404.3 633 399 C635.1 393.7 638 387.5 640 382 C642 376.5 643.6 371.3 645 366 C646.4 360.7 647.7 355 648.6 350 C649.5 345 650.7 341.2 650.6 336 C650.5 330.8 649.5 321.2 648 319 Z" fill="none" stroke="#fbe0f4" stroke-width="3" opacity="0.4" filter="url(#blur1)"/><path d="M706 319 C707.5 316.8 710.8 319.3 712.5 322.5 C714.2 325.7 715.3 332.8 716.4 338 C717.5 343.2 718.1 348.8 719 354 C719.9 359.2 720.5 363.3 722 369 C723.5 374.7 726.2 382.2 728 388 C729.8 393.8 731.3 399.3 733 404 C734.7 408.7 736.5 412.3 738 416 C739.5 419.7 741.2 422.5 742 426 C742.8 429.5 743.1 434.1 743 437 C742.9 439.9 742.3 442.7 741.5 443.5 C740.7 444.3 739 443.2 738.2 442 C737.4 440.8 737.2 435.8 736.6 436 C736 436.2 735.3 442.4 734.4 443 C733.5 443.6 732.1 442.1 731.4 439.6 C730.7 437.1 730.8 432.3 730 428 C729.2 423.7 727.9 418.8 726.4 414 C724.9 409.2 723.1 404.3 721 399 C718.9 393.7 716 387.5 714 382 C712 376.5 710.4 371.3 709 366 C707.6 360.7 706.3 355 705.4 350 C704.5 345 703.3 341.2 703.4 336 C703.5 330.8 704.5 321.2 706 319 Z" fill="none" stroke="#fbe0f4" stroke-width="3" opacity="0.4" filter="url(#blur1)"/></g><path d="M670 299 C669.9 300.7 670.8 306.4 669.5 309 C668.2 311.6 665.2 312.9 662 314.5 C658.8 316.1 653 317.1 650 318.5 C647 319.9 644.4 319.8 644 323 C643.6 326.2 646.4 333.2 647.5 338 C648.6 342.8 649.8 347 650.5 352 C651.2 357 651.8 363 652 368 C652.2 373 652.2 377.3 651.5 382 C650.8 386.7 648.6 391.3 647.5 396 C646.4 400.7 645.5 405.7 645 410 C644.5 414.3 644.3 420 644.2 422 L677 431 L709.8 422 C709.7 420 709.5 414.3 709 410 C708.5 405.7 707.6 400.7 706.5 396 C705.4 391.3 703.2 386.7 702.5 382 C701.8 377.3 701.8 373 702 368 C702.2 363 702.8 357 703.5 352 C704.2 347 705.4 342.8 706.5 338 C707.6 333.2 710.4 326.2 710 323 C709.6 319.8 707 319.9 704 318.5 C701 317.1 695.2 316.1 692 314.5 C688.8 312.9 685.8 311.6 684.5 309 C683.2 306.4 684.1 300.7 684 299 Z" fill="url(#torsoG)"/><ellipse cx="654.5" cy="331" rx="6.5" ry="10" fill="#3b2470" opacity="0.8"/><ellipse cx="699.5" cy="331" rx="6.5" ry="10" fill="#3b2470" opacity="0.8"/><path d="M677 319 C662 319 652.5 332 653.5 350 C654.5 364 660 372 668 378 L686 378 C694 372 699.5 364 700.5 350 C701.5 332 692 319 677 319 Z" fill="#f3d7ea" opacity="0.9"/><g fill="none" stroke="#fff0f8" stroke-width="0.8" opacity="0.75"><path d="M677 324 Q666.2 322.5 659 329"/><path d="M677 324 Q687.8 322.5 695 329"/><path d="M677 329 Q665.2 327.5 657.4 334"/><path d="M677 329 Q688.8 327.5 696.6 334"/><path d="M677 334 Q664.3 332.5 655.8 339"/><path d="M677 334 Q689.7 332.5 698.2 339"/><path d="M677 339 Q663.3 337.5 654.2 344"/><path d="M677 339 Q690.7 337.5 699.8 344"/><path d="M677 344 Q662.4 342.5 652.6 349"/><path d="M677 344 Q691.6 342.5 701.4 349"/><path d="M677 349 Q662.4 347.5 652.6 354"/><path d="M677 349 Q691.6 347.5 701.4 354"/><path d="M677 354 Q662.4 352.5 652.6 359"/><path d="M677 354 Q691.6 352.5 701.4 359"/><path d="M677 359 Q662.4 357.5 652.6 364"/><path d="M677 359 Q691.6 357.5 701.4 364"/><path d="M677 364 Q662.4 362.5 652.6 369"/><path d="M677 364 Q691.6 362.5 701.4 369"/><path d="M677 369 Q662.4 367.5 652.6 374"/><path d="M677 369 Q691.6 367.5 701.4 374"/></g><ellipse cx="666" cy="332" rx="6.2" ry="10.5" fill="#6cc0f2"/><ellipse cx="688.6" cy="332" rx="6.2" ry="10.5" fill="#6cc0f2"/><ellipse cx="666" cy="332" rx="6.2" ry="10.5" fill="url(#meshW)" opacity="0.7"/><ellipse cx="688.6" cy="332" rx="6.2" ry="10.5" fill="url(#meshW)" opacity="0.7"/><path d="M656 344 C660 339 670.5 343 672 349 L671.6 360 C667 367 659 366 656.6 360 Z" fill="#e2465a"/><path d="M698 344 C694 339 683.5 343 682 349 L682.4 360 C687 367 695 366 697.4 360 Z" fill="#e2465a"/><path d="M656 344 C660 339 670.5 343 672 349 L671.6 360 C667 367 659 366 656.6 360 Z" fill="url(#ribs)" opacity="0.65"/><path d="M698 344 C694 339 683.5 343 682 349 L682.4 360 C687 367 695 366 697.4 360 Z" fill="url(#ribs2)" opacity="0.65"/><path d="M656.5 366 C664 376 690 376 697.5 366 L700 394 C694 404 660 404 654 394 Z" fill="#2c2a86" opacity="0.8"/><path d="M656.5 366 C664 376 690 376 697.5 366 L700 394 C694 404 660 404 654 394 Z" fill="url(#meshW)" opacity="0.35"/><rect x="674.2" y="317.6" width="6.2" height="33" rx="2.6" fill="#fbfdff"/><path d="M672.6 348 L681.4 348 L684.6 352 L681.4 354 L684.6 356 L681.4 358 L684.6 360 L681.4 362 L684.6 364 L681.4 366 L684.6 368 L681.4 370 L684.6 372 L681.4 374 L684.6 376 L681.4 378 L684.6 380 L681.4 382 L684.6 384 L681.4 386 L684.6 388 L681.4 390 L680 396 L674 396 L672.6 390 L669.4 388 L672.6 386 L669.4 384 L672.6 382 L669.4 380 L672.6 378 L669.4 376 L672.6 374 L669.4 372 L672.6 370 L669.4 368 L672.6 366 L669.4 364 L672.6 362 L669.4 360 L672.6 358 L669.4 356 L672.6 354 L669.4 352 Z" fill="#3fe2f4"/><rect x="675.6" y="350" width="3" height="44" fill="#b8f6fc" opacity="0.8"/><ellipse cx="665.4" cy="394.5" rx="6" ry="8.4" fill="#f0742a"/><ellipse cx="688.8" cy="394.5" rx="6" ry="8.4" fill="#f0742a"/><ellipse cx="666.4" cy="392" rx="3" ry="4.6" fill="#fbb04e"/><ellipse cx="687.8" cy="392" rx="3" ry="4.6" fill="#fbb04e"/><ellipse cx="677" cy="394" rx="5" ry="6" fill="#a8f2fa" opacity="0.95"/><ellipse cx="671.6" cy="405.6" rx="4.6" ry="4.8" fill="#1f3690"/><ellipse cx="682.6" cy="405.6" rx="4.6" ry="4.8" fill="#1f3690"/><path d="M662 411 Q677 423 692 411" fill="none" stroke="#f6dcf0" stroke-width="2.2"/><path d="M660 398 Q658 410 662 420" fill="none" stroke="#f07a3a" stroke-width="2.2" opacity="0.9"/><path d="M694 398 Q696 410 692 420" fill="none" stroke="#f07a3a" stroke-width="2.2" opacity="0.9"/><path d="M670 299 C669.9 300.7 670.8 306.4 669.5 309 C668.2 311.6 665.2 312.9 662 314.5 C658.8 316.1 653 317.1 650 318.5 C647 319.9 644.4 319.8 644 323 C643.6 326.2 646.4 333.2 647.5 338 C648.6 342.8 649.8 347 650.5 352 C651.2 357 651.8 363 652 368 C652.2 373 652.2 377.3 651.5 382 C650.8 386.7 648.6 391.3 647.5 396 C646.4 400.7 645.5 405.7 645 410 C644.5 414.3 644.3 420 644.2 422 L677 431 L709.8 422 C709.7 420 709.5 414.3 709 410 C708.5 405.7 707.6 400.7 706.5 396 C705.4 391.3 703.2 386.7 702.5 382 C701.8 377.3 701.8 373 702 368 C702.2 363 702.8 357 703.5 352 C704.2 347 705.4 342.8 706.5 338 C707.6 333.2 710.4 326.2 710 323 C709.6 319.8 707 319.9 704 318.5 C701 317.1 695.2 316.1 692 314.5 C688.8 312.9 685.8 311.6 684.5 309 C683.2 306.4 684.1 300.7 684 299 Z" fill="url(#meshW)" opacity="0.28"/><path d="M670 299 C669.9 300.7 670.8 306.4 669.5 309 C668.2 311.6 665.2 312.9 662 314.5 C658.8 316.1 653 317.1 650 318.5 C647 319.9 644.4 319.8 644 323 C643.6 326.2 646.4 333.2 647.5 338 C648.6 342.8 649.8 347 650.5 352 C651.2 357 651.8 363 652 368 C652.2 373 652.2 377.3 651.5 382 C650.8 386.7 648.6 391.3 647.5 396 C646.4 400.7 645.5 405.7 645 410 C644.5 414.3 644.3 420 644.2 422" fill="none" stroke="#f6d2ee" stroke-width="1.3" stroke-linejoin="round"/><path d="M684 299 C684.1 300.7 683.2 306.4 684.5 309 C685.8 311.6 688.8 312.9 692 314.5 C695.2 316.1 701 317.1 704 318.5 C707 319.9 709.6 319.8 710 323 C710.4 326.2 707.6 333.2 706.5 338 C705.4 342.8 704.2 347 703.5 352 C702.8 357 702.2 363 702 368 C701.8 373 701.8 377.3 702.5 382 C703.2 386.7 705.4 391.3 706.5 396 C707.6 400.7 708.5 405.7 709 410 C709.5 414.3 709.7 420 709.8 422" fill="none" stroke="#f6d2ee" stroke-width="1.3" stroke-linejoin="round"/><path d="M675 427 L679 427 L679.6 442.2 L674.4 442.2 Z" fill="#0c2f7c"/><rect x="640" y="442.1" width="74" height="3.1" fill="#26384a" opacity="0.5"/><rect x="640" y="445.2" width="74" height="1.8" fill="#7f8c99" opacity="0.55"/><path d="M668.6 297 L685.4 297 L686.8 314 L667.2 314 Z" fill="#50305e"/><path d="M668.6 297 L667.2 314 M685.4 297 L686.8 314" stroke="#e8b8d6" stroke-width="1.1" fill="none"/><path d="M677 259.6 C679.5 259.6 682.3 259.8 684.5 261 C686.7 262.2 688.8 264.5 690 267 C691.2 269.5 691.4 273.3 691.6 276 C691.8 278.7 690.8 281.5 691 283 C691.2 284.5 692.5 283.8 692.6 285 C692.7 286.2 692.1 288.9 691.6 290 C691.1 291.1 690.3 290.3 689.6 291.5 C688.9 292.7 688.8 295.2 687.6 297 C686.4 298.8 684.4 301.3 682.6 302.5 C680.8 303.7 678.9 304 677 304 C675.1 304 673.2 303.7 671.4 302.5 C669.6 301.3 667.6 298.8 666.4 297 C665.2 295.2 665.1 292.7 664.4 291.5 C663.7 290.3 662.9 291.1 662.4 290 C661.9 288.9 661.3 286.2 661.4 285 C661.5 283.8 662.8 284.5 663 283 C663.2 281.5 662.2 278.7 662.4 276 C662.6 273.3 662.8 269.5 664 267 C665.2 264.5 667.3 262.2 669.5 261 C671.7 259.8 674.5 259.6 677 259.6 Z" fill="none" stroke="#f4c6e0" stroke-width="3" opacity="0.45" filter="url(#blur1)"/><path d="M677 259.6 C679.5 259.6 682.3 259.8 684.5 261 C686.7 262.2 688.8 264.5 690 267 C691.2 269.5 691.4 273.3 691.6 276 C691.8 278.7 690.8 281.5 691 283 C691.2 284.5 692.5 283.8 692.6 285 C692.7 286.2 692.1 288.9 691.6 290 C691.1 291.1 690.3 290.3 689.6 291.5 C688.9 292.7 688.8 295.2 687.6 297 C686.4 298.8 684.4 301.3 682.6 302.5 C680.8 303.7 678.9 304 677 304 C675.1 304 673.2 303.7 671.4 302.5 C669.6 301.3 667.6 298.8 666.4 297 C665.2 295.2 665.1 292.7 664.4 291.5 C663.7 290.3 662.9 291.1 662.4 290 C661.9 288.9 661.3 286.2 661.4 285 C661.5 283.8 662.8 284.5 663 283 C663.2 281.5 662.2 278.7 662.4 276 C662.6 273.3 662.8 269.5 664 267 C665.2 264.5 667.3 262.2 669.5 261 C671.7 259.8 674.5 259.6 677 259.6 Z" fill="url(#headG)"/><path d="M663.8 276 C663.6 263 670.5 260.2 677 260.2 C683.5 260.2 690.4 263 690.2 276 C686 270.5 682 272 677 273.5 C672 272 668 270.5 663.8 276 Z" fill="#b23e68" opacity="0.85"/><path d="M670 262 Q672 268 671 274 M677 261 V272 M684 262 Q682 268 683 274" stroke="#7e2848" stroke-width="1.4" fill="none" opacity="0.6"/><path d="M677 259.6 C679.5 259.6 682.3 259.8 684.5 261 C686.7 262.2 688.8 264.5 690 267 C691.2 269.5 691.4 273.3 691.6 276 C691.8 278.7 690.8 281.5 691 283 C691.2 284.5 692.5 283.8 692.6 285 C692.7 286.2 692.1 288.9 691.6 290 C691.1 291.1 690.3 290.3 689.6 291.5 C688.9 292.7 688.8 295.2 687.6 297 C686.4 298.8 684.4 301.3 682.6 302.5 C680.8 303.7 678.9 304 677 304 C675.1 304 673.2 303.7 671.4 302.5 C669.6 301.3 667.6 298.8 666.4 297 C665.2 295.2 665.1 292.7 664.4 291.5 C663.7 290.3 662.9 291.1 662.4 290 C661.9 288.9 661.3 286.2 661.4 285 C661.5 283.8 662.8 284.5 663 283 C663.2 281.5 662.2 278.7 662.4 276 C662.6 273.3 662.8 269.5 664 267 C665.2 264.5 667.3 262.2 669.5 261 C671.7 259.8 674.5 259.6 677 259.6 Z" fill="url(#dotsP)" opacity="0.55"/><path d="M677 259.6 C679.5 259.6 682.3 259.8 684.5 261 C686.7 262.2 688.8 264.5 690 267 C691.2 269.5 691.4 273.3 691.6 276 C691.8 278.7 690.8 281.5 691 283 C691.2 284.5 692.5 283.8 692.6 285 C692.7 286.2 692.1 288.9 691.6 290 C691.1 291.1 690.3 290.3 689.6 291.5 C688.9 292.7 688.8 295.2 687.6 297 C686.4 298.8 684.4 301.3 682.6 302.5 C680.8 303.7 678.9 304 677 304 C675.1 304 673.2 303.7 671.4 302.5 C669.6 301.3 667.6 298.8 666.4 297 C665.2 295.2 665.1 292.7 664.4 291.5 C663.7 290.3 662.9 291.1 662.4 290 C661.9 288.9 661.3 286.2 661.4 285 C661.5 283.8 662.8 284.5 663 283 C663.2 281.5 662.2 278.7 662.4 276 C662.6 273.3 662.8 269.5 664 267 C665.2 264.5 667.3 262.2 669.5 261 C671.7 259.8 674.5 259.6 677 259.6 Z" fill="none" stroke="#f8d8ea" stroke-width="1.2"/><ellipse cx="670.8" cy="280.6" rx="3.6" ry="2.3" fill="#8a4a86" opacity="0.65"/><ellipse cx="683.2" cy="280.6" rx="3.6" ry="2.3" fill="#8a4a86" opacity="0.65"/><ellipse cx="669" cy="288" rx="3" ry="3.4" fill="#c04a7a" opacity="0.32"/><ellipse cx="685" cy="288" rx="3" ry="3.4" fill="#c04a7a" opacity="0.32"/><path d="M677 279 V290" stroke="#fbe8f0" stroke-width="1.6"/><path d="M673.6 292.6 H680.4" stroke="#fbe8f0" stroke-width="1.3"/><path d="M677 293 V302" stroke="#5a2040" stroke-width="1.2" stroke-dasharray="1.5 1.1"/><rect x="660" y="308" width="34" height="2" fill="#7f8c99" opacity="0.7"/><rect x="660" y="310" width="34" height="3.6" fill="#3b4858" opacity="0.55"/>
<!-- p_monitor -->
<path d="M1020 452 H1060 V474.5 H1020 Z" fill="#d3dae2"/><path d="M1020 452 H1060 V455.5 H1020 Z" fill="#aeb8c6"/><path d="M986.2 476.4 L1020 467.6 L1060 467.6 L1093.6 476.4 L1093.6 483 L986.2 483 Z" fill="#e3e8ee"/><path d="M986.2 479.4 H1093.6 V483 H986.2 Z" fill="#cfd6de"/><path d="M1020 468.6 H1060 V474.5 H1020 Z" fill="#b4becb"/><rect x="943.6" y="326.2" width="192.6" height="126.6" rx="3.4" fill="#c9d1dc"/><rect x="945" y="327.6" width="189.8" height="123.8" rx="2.2" fill="url(#bezelG)"/><rect x="952" y="335.2" width="176.4" height="107.4" fill="#d2dae8"/><rect x="953.2" y="336.4" width="174" height="105" fill="#0b1a5c"/><rect x="953.2" y="336.4" width="174" height="16" fill="#0d2f84" opacity="0.65"/><rect x="1116.7" y="336.4" width="10.5" height="105" fill="#0c2a7c" opacity="0.8"/><rect x="953.2" y="336.4" width="20.6" height="105" fill="#0a1440"/><rect x="953.2" y="431.4" width="174" height="10" fill="#0a1648"/><rect x="974" y="352.5" width="142.7" height="79" fill="url(#scrG)"/><rect x="974" y="348.4" width="142.7" height="4.4" fill="#1a62b4"/><g stroke="#5fb6d8" stroke-width="0.5" opacity="0.35"><path d="M1008 353 V431"/><path d="M1046 353 V431"/><path d="M1084 353 V431"/><path d="M975 372 H1116"/><path d="M975 392 H1116"/><path d="M975 412 H1116"/></g><path d="M974.5 417.6 L978 418.3 L985.1 411.5 L989.7 416.2 L993.7 420 L999.6 415.7 L1004.5 420 L1008.5 422.3 L1012 405.9 L1015.5 407.8 L1018.6 408.3 L1020.4 402.2 L1023.3 385.3 L1026.1 372.9 L1030.7 376.6 L1037.3 373.6 L1041.1 381.1 L1043.4 404 L1048.3 394.7 L1052.3 405.4 L1057.7 383.9 L1061.2 399.8 L1065.9 420.9 L1070.1 394.7 L1073.4 365.4 L1075.7 359 L1078.5 364.7 L1081.8 392.3 L1083.7 409.2 L1087 412.9 L1089.3 401.7 L1094 411.1 L1097.5 411.5 L1101.5 421.8 L1105.7 409.2 L1111.6 385.3 L1115.6 399.8" fill="none" stroke="#9aeaf0" stroke-width="1.0" stroke-linejoin="round" opacity="0.95"/><path d="M1083 402 H1094 M1085 402 V412" stroke="#8fe6ee" stroke-width="0.7" fill="none" opacity="0.8"/><g fill="#b8d4ee"><rect x="971" y="340" width="12" height="2.2" opacity="0.8"/><rect x="975.5" y="349.2" width="16" height="2.2" opacity="0.75"/><rect x="995" y="349.4" width="9" height="1.8" opacity="0.6"/><rect x="1008" y="349.4" width="11" height="1.8" opacity="0.6"/><rect x="1064" y="344" width="16" height="2" opacity="0.6"/><rect x="1083" y="343.5" width="4" height="2.6" opacity="0.6"/><rect x="1091" y="343.8" width="24" height="2.2" opacity="0.5"/><rect x="1104" y="340" width="4" height="2" opacity="0.7"/><rect x="1110" y="340" width="7" height="2" opacity="0.7"/><rect x="1084" y="349.6" width="9" height="1.8" opacity="0.6"/><rect x="1096" y="349.6" width="8" height="1.8" opacity="0.6"/><rect x="1106" y="349.6" width="10" height="1.8" opacity="0.7"/></g><rect x="962.2" y="339.6" width="4.4" height="3.2" rx="1.2" fill="#c8d4e8"/><rect x="961.3" y="348.6" width="6.2" height="6.8" rx="1.2" fill="#2aa4e4"/><rect x="961.8" y="360.2" width="5.2" height="5.6" rx="1.2" fill="#3a8ad8"/><rect x="961.2" y="370" width="6.4" height="6" rx="1.2" fill="#e2384e"/><rect x="962" y="380.8" width="4.8" height="5.2" rx="1.2" fill="#3b6fcf"/><rect x="961.5" y="393" width="5.8" height="6" rx="1.2" fill="#2d8fe0"/><rect x="960.8" y="405.4" width="7.2" height="3.2" rx="1.2" fill="#b9c4da"/><rect x="961.2" y="413.8" width="6.4" height="7.2" rx="1.2" fill="#3aa8e8"/><rect x="961.6" y="425.8" width="5.6" height="4.4" rx="1.2" fill="#d4dcec"/><rect x="961.6" y="434.4" width="5.6" height="4.8" rx="1.2" fill="#c8d2e6"/><path d="M972.6 348 V353" stroke="#d8385a" stroke-width="0.9"/><rect x="974.8" y="433.8" width="5.6" height="5.4" rx="0.8" fill="#e8b832"/><rect x="988.2" y="433.8" width="5.6" height="5.4" rx="0.8" fill="#c8b0d0"/><rect x="1001.8" y="433.8" width="5.6" height="5.4" rx="0.8" fill="#f0a030"/><rect x="1014.9" y="433.8" width="5.6" height="5.4" rx="0.8" fill="#7a8ca6"/><rect x="1028.2" y="433.8" width="5.6" height="5.4" rx="0.8" fill="#2a7cc0"/>
<!-- p_signal -->
<path d="M782 389.4 C782.2 389.7 782.9 390.8 783.3 390.8 C783.7 390.7 784.2 389.5 784.6 388.9 C785 388.4 785.5 386.8 785.9 387.5 C786.3 388.2 786.8 392.8 787.2 393.1 C787.6 393.4 788.1 390.4 788.5 389.2 C788.9 388 789.4 385.5 789.8 386.1 C790.2 386.7 790.7 391.9 791.1 392.6 C791.5 393.2 792 390.7 792.4 390 C792.8 389.3 793.3 388.5 793.7 388.4 C794.1 388.3 794.6 389.3 795 389.3 C795.4 389.4 795.9 388.1 796.3 388.8 C796.7 389.5 797.2 393.8 797.6 393.5 C798 393.2 798.5 388.3 798.9 387 C799.3 385.7 799.8 384.2 800.2 385.8 C800.6 387.4 801.1 396.2 801.5 396.5 C801.9 396.9 802.4 389.7 802.8 387.7 C803.2 385.8 803.7 383.8 804.1 384.9 C804.5 385.9 805 393.3 805.4 394.1 C805.8 394.8 806.3 390.4 806.7 389.5 C807.1 388.7 807.6 389.2 808 389 C808.4 388.8 808.9 388.2 809.3 388.2 C809.7 388.2 810.2 387.5 810.6 388.7 C811 390 811.5 396.4 811.9 395.7 C812.3 395 812.8 386.3 813.2 384.6 C813.6 383 814.1 383.4 814.5 385.8 C814.9 388.1 815.4 398.6 815.8 398.6 C816.2 398.7 816.7 388.2 817.1 386 C817.5 383.8 818 383.8 818.4 385.2 C818.8 386.6 819.3 393.7 819.7 394.3 C820.1 395 820.6 389.8 821 389.1 C821.4 388.4 821.9 390.5 822.3 390.1 C822.7 389.6 823.2 386.6 823.6 386.5 C824 386.4 824.5 387.6 824.9 389.4 C825.3 391.2 825.8 398.3 826.2 397.1 C826.6 396 827.1 384 827.5 382.3 C827.9 380.6 828.4 384 828.8 386.9 C829.2 389.7 829.7 399.7 830.1 399.3 C830.5 398.9 831 386.8 831.4 384.6 C831.8 382.5 832.3 384.9 832.7 386.4 C833.1 387.9 833.6 393.1 834 393.5 C834.4 394 834.9 389.7 835.3 389.3 C835.7 388.8 836.2 391.8 836.6 391.1 C837 390.3 837.5 384.8 837.9 384.7 C838.3 384.7 838.8 388.5 839.2 390.7 C839.6 392.8 840.1 399.1 840.5 397.4 C840.9 395.8 841.4 382.2 841.8 380.7 C842.2 379.3 842.7 385.6 843.1 388.6 C843.5 391.6 844 399.3 844.4 398.5 C844.8 397.8 845.3 385.9 845.7 384.1 C846.1 382.3 846.6 386.5 847 387.8 C847.4 389.2 847.9 391.7 848.3 392.1 C848.7 392.4 849.2 390 849.6 389.9 C850 389.8 850.5 392.6 850.9 391.5 C851.3 390.5 851.8 383.3 852.2 383.4 C852.6 383.5 853.1 390 853.5 392.2 C853.9 394.3 854.4 398.5 854.8 396.5 C855.2 394.5 855.7 381.4 856.1 380.3 C856.5 379.3 857 387.6 857.4 390.3 C857.8 393 858.3 397.6 858.7 396.7 C859.1 395.7 859.6 385.8 860 384.6 C860.4 383.3 860.9 388 861.3 389 C861.7 390 862.2 390.1 862.6 390.4 C863 390.7 863.5 390.7 863.9 390.9 C864.3 391 864.8 392.6 865.2 391.3 C865.6 390 866.1 382.8 866.5 383.2 C866.9 383.5 867.4 391.4 867.8 393.3 C868.2 395.2 868.7 396.6 869.1 394.7 C869.5 392.7 870 381.9 870.4 381.4 C870.8 380.9 871.3 389.3 871.7 391.5 C872.1 393.6 872.6 395.2 873 394.2 C873.4 393.3 873.9 386.7 874.3 385.9 C874.7 385.1 875.2 389.1 875.6 389.6 C876 390.2 876.5 388.9 876.9 389.2 C877.3 389.6 877.8 391.3 878.2 391.6 C878.6 391.8 879.1 391.8 879.5 390.6 C879.9 389.3 880.4 383.8 880.8 384.2 C881.2 384.7 881.7 392 882.1 393.4 C882.5 394.8 883 394 883.4 392.4 C883.8 390.8 884.3 384 884.7 383.9 C885.1 383.7 885.6 390.2 886 391.6 C886.4 392.9 886.9 392.5 887.3 391.8 C887.7 391.2 888.2 388.1 888.6 387.7 C889 387.3 889.5 389.5 889.9 389.7 C890.3 389.9 890.8 388.6 891.2 388.9 C891.6 389.2 892.1 391.2 892.5 391.3 C892.9 391.5 893.4 390.5 893.8 389.7 C894.2 389 894.7 386.6 895.1 386.9 C895.5 387.2 896 391.1 896.4 391.6 C896.8 392.2 897.3 390.8 897.7 390.2 C898.1 389.7 898.6 388.2 899 388.2 C899.4 388.3 899.9 389.9 900.3 390.2 C900.7 390.5 901.2 390.2 901.6 390 C902 389.8 902.5 389.3 902.9 389.2 C903.3 389.2 903.8 389.6 904.2 389.6 C904.6 389.6 905.1 389.1 905.5 389.2 C905.9 389.4 906.6 390.3 906.8 390.5" fill="none" stroke="#8e9da2" stroke-width="1.1" opacity="0.8"/><path d="M782.1 389.1 C782.9 387.6 785.8 380.8 787.4 380.1 C789 379.5 789.9 382.7 791.4 385.1 C793 387.4 794.9 391.2 796.8 394.2 C798.7 397.2 800.8 402.7 802.8 402.9 C804.8 403.1 807.2 398.8 808.8 395.5 C810.5 392.3 811.8 384.3 812.9 383.5 C813.9 382.7 814.3 386.8 815.3 390.8 C816.3 394.9 817.6 408.8 818.9 407.6 C820.2 406.4 821.2 390.7 822.9 383.5 C824.6 376.2 827.3 365.8 828.9 364.1 C830.6 362.3 831.6 367.7 832.9 372.8 C834.3 377.8 835.6 388.3 837 394.2 C838.3 400.1 839.6 407.4 841 408.3 C842.3 409.1 843.4 403.4 845 399.6 C846.6 395.7 848.5 389.3 850.4 385.1 C852.3 380.8 854.4 374.1 856.4 374.1 C858.4 374.1 860.2 380 862.4 385.1 C864.6 390.2 867.3 406.3 869.8 404.9 C872.2 403.5 875.2 380.1 877.1 376.8 C879.1 373.5 879.7 381.2 881.4 385.1 C883.1 388.9 885.4 400.6 887.2 399.8 C888.9 399 890.5 380.6 891.9 380.1 C893.2 379.7 894 396.9 895.2 397.1 C896.4 397.4 898.1 382.4 899.2 381.5 C900.4 380.6 900.9 390.7 901.9 391.8 C902.9 392.9 904.2 388.4 905.3 388 C906.3 387.7 907.7 389.4 908.2 389.6" fill="none" stroke="#bcc8cc" stroke-width="1.55" stroke-linejoin="round" stroke-linecap="round"/><path d="M793.6 386 C794.5 387.2 797.1 390.9 799 393.3 C800.9 395.7 803 400.1 805 400.2 C807 400.4 809.4 396.9 811 394.3 C812.7 391.8 814 385.3 815.1 384.7 C816.1 384.1 816.5 387.4 817.5 390.6 C818.5 393.8 819.8 405 821.1 404 C822.4 403 823.4 390.5 825.1 384.7 C826.8 378.9 829.5 370.6 831.1 369.2 C832.8 367.7 833.8 372.1 835.1 376.1 C836.5 380.2 837.8 388.5 839.2 393.3 C840.5 398 841.8 403.8 843.2 404.5 C844.5 405.2 845.6 400.7 847.2 397.6 C848.8 394.5 850.7 389.4 852.6 386 C854.5 382.6 856.6 377.2 858.6 377.2 C860.6 377.2 862.4 381.9 864.6 386 C866.8 390.1 869.5 403 872 401.8 C874.4 400.7 877.4 382 879.3 379.3 C881.3 376.7 881.9 382.9 883.6 386 C885.3 389.1 887.6 398.4 889.4 397.8 C891.1 397.1 892.7 382.4 894.1 382 C895.4 381.7 896.2 395.5 897.4 395.6 C898.6 395.8 900.3 383.8 901.4 383.1 C902.6 382.4 903.7 390 904.1 391.3" fill="none" stroke="#a3b0b5" stroke-width="1.0" opacity="0.75"/><path d="M775.8 385 L782.6 389.6 L775.8 394.4 Z" fill="#d4dede"/><path d="M907.6 385.2 L915.4 389.6 L907.6 394.2 Z" fill="#d4dede"/><path d="M918.6 389.6 H933" stroke="#eef2f5" stroke-width="2.1"/><path d="M930.8 385.6 L940.6 389.7 L930.8 393.9 Z" fill="#eef2f5"/>
<!-- p_text -->
<circle cx="36.6" cy="60.6" r="6.2" fill="#2b8be6"/><text x="57.4" y="70.9" font-size="34.5" font-weight="400" fill="#f4f6f9" textLength="153.8" lengthAdjust="spacingAndGlyphs" stroke="#f4f6f9" stroke-width="0.6">Rishoudt</text><text x="222.6" y="70.9" font-size="34.5" font-weight="400" fill="#f4f6f9" textLength="232.8" lengthAdjust="spacingAndGlyphs" stroke="#f4f6f9" stroke-width="0.6">inhinazomool</text><text x="467.6" y="70.9" font-size="34.5" font-weight="400" fill="#f4f6f9" textLength="158.0" lengthAdjust="spacingAndGlyphs" stroke="#f4f6f9" stroke-width="0.6">heerlingr</text><text x="635.6" y="70.9" font-size="34.5" font-weight="400" fill="#f4f6f9" textLength="166.6" lengthAdjust="spacingAndGlyphs" stroke="#f4f6f9" stroke-width="0.6">eaoybosy</text><text x="576.2" y="154.8" font-size="15.8" font-weight="400" fill="#f3f6fa" textLength="189" lengthAdjust="spacingAndGlyphs" >Your elect agestct waves</text><text x="576.2" y="175.9" font-size="15.8" font-weight="400" fill="#f3f6fa" textLength="183" lengthAdjust="spacingAndGlyphs" >mavle from human body,</text><text x="933.3" y="239.8" font-size="16.2" font-weight="400" fill="#f3f6fa" textLength="193" lengthAdjust="spacingAndGlyphs" >Capturred &amp; health Data</text><text x="933.3" y="261.2" font-size="16.2" font-weight="400" fill="#f3f6fa" textLength="169" lengthAdjust="spacingAndGlyphs" >promactinaf easlyses</text><text x="260.4" y="580" font-size="17.6" font-weight="700" fill="#15284a" textLength="75.5" lengthAdjust="spacingAndGlyphs" >Demalte</text><text x="225" y="600.7" font-size="16" font-weight="400" fill="#22344f" textLength="181" lengthAdjust="spacingAndGlyphs" >HealtlferinraredUU0 2TW</text><text x="225" y="622.5" font-size="16" font-weight="400" fill="#22344f" textLength="159" lengthAdjust="spacingAndGlyphs" >desckeament 0: 1060</text><text x="225" y="644" font-size="16" font-weight="400" fill="#22344f" textLength="160" lengthAdjust="spacingAndGlyphs" >and helyh inocgheef.</text><text x="613" y="580" font-size="17.6" font-weight="700" fill="#15284a" textLength="80.8" lengthAdjust="spacingAndGlyphs" >Demetite</text><text x="579" y="600.7" font-size="16" font-weight="400" fill="#22344f" textLength="180" lengthAdjust="spacingAndGlyphs" >HealtlferinnacdUD0 29W</text><text x="579" y="622.5" font-size="16" font-weight="400" fill="#22344f" textLength="160.5" lengthAdjust="spacingAndGlyphs" >dasckearnem 0: 1000</text><text x="579" y="644" font-size="16" font-weight="400" fill="#22344f" textLength="161.6" lengthAdjust="spacingAndGlyphs" >and hellth inurgheef.</text><text x="963" y="580" font-size="17.6" font-weight="700" fill="#15284a" textLength="79.5" lengthAdjust="spacingAndGlyphs" >Lernalne</text><text x="928" y="601.5" font-size="16" font-weight="400" fill="#22344f" textLength="181" lengthAdjust="spacingAndGlyphs" >HealltlerinnaredU00 20W</text><text x="928" y="623.2" font-size="16" font-weight="400" fill="#22344f" textLength="161" lengthAdjust="spacingAndGlyphs" >desuleerarent D: 1000</text><text x="928" y="644.2" font-size="16" font-weight="400" fill="#22344f" textLength="162" lengthAdjust="spacingAndGlyphs" >and health uiogcheef.</text>
</svg></body></html>
